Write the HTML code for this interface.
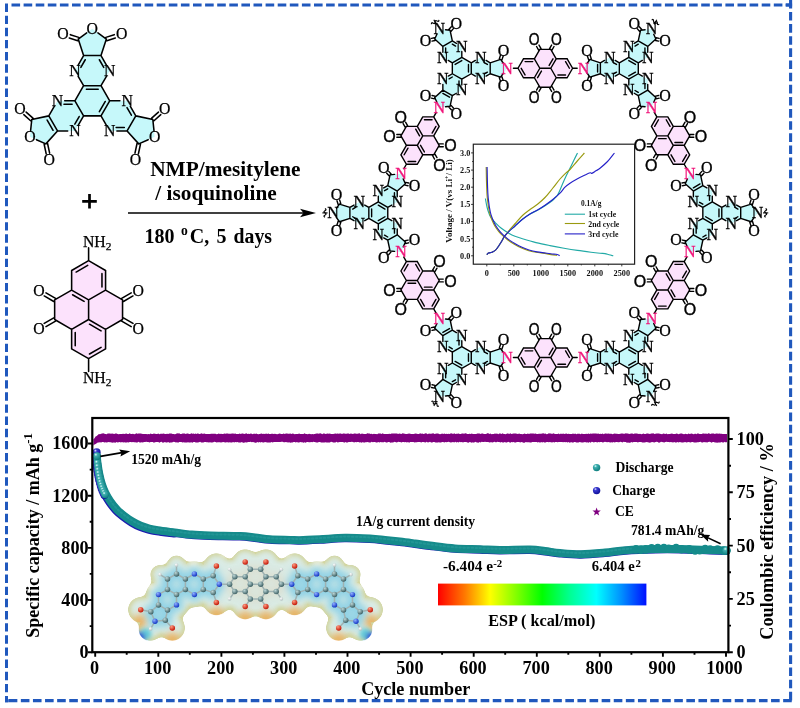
<!DOCTYPE html>
<html lang="en"><head><meta charset="utf-8"><title>COF synthesis and cycling performance</title>
<style>html,body{margin:0;padding:0;background:#fff}svg{display:block}</style></head>
<body>
<svg width="800" height="708" viewBox="0 0 800 708">
<defs><radialGradient id="gT" cx="0.35" cy="0.3" r="0.7"><stop offset="0" stop-color="#e8ffff"/><stop offset="0.28" stop-color="#3fb0b0"/><stop offset="1" stop-color="#0f7f7f"/></radialGradient>
<radialGradient id="gB" cx="0.35" cy="0.3" r="0.7"><stop offset="0" stop-color="#e8e8ff"/><stop offset="0.28" stop-color="#3a3ad0"/><stop offset="1" stop-color="#10109a"/></radialGradient>
<linearGradient id="rb" x1="0" x2="1" y1="0" y2="0"><stop offset="0" stop-color="#ff0000"/><stop offset="0.13" stop-color="#ff7a00"/><stop offset="0.25" stop-color="#ffff00"/><stop offset="0.38" stop-color="#7dff00"/><stop offset="0.5" stop-color="#00ff00"/><stop offset="0.63" stop-color="#00ff90"/><stop offset="0.76" stop-color="#00ffff"/><stop offset="0.88" stop-color="#0090ff"/><stop offset="1" stop-color="#0010ff"/></linearGradient>
<filter id="bl1" x="-10%" y="-20%" width="120%" height="140%"><feGaussianBlur stdDeviation="0.9"/></filter>
<filter id="goo2" x="-10%" y="-20%" width="120%" height="140%"><feGaussianBlur stdDeviation="3.2" result="b"/><feColorMatrix in="b" type="matrix" values="1 0 0 0 0  0 1 0 0 0  0 0 1 0 0  0 0 0 14 -6.4" result="t"/><feGaussianBlur in="t" stdDeviation="2.2"/></filter>
<filter id="goo" x="-10%" y="-20%" width="120%" height="140%"><feGaussianBlur stdDeviation="3.2" result="b"/><feColorMatrix in="b" type="matrix" values="1 0 0 0 0  0 1 0 0 0  0 0 1 0 0  0 0 0 14 -6.4" result="t"/><feGaussianBlur in="t" stdDeviation="0.7"/></filter>
<filter id="bl2" x="-20%" y="-40%" width="140%" height="180%"><feGaussianBlur stdDeviation="2.2"/></filter>
<filter id="bl3" x="-20%" y="-40%" width="140%" height="180%"><feGaussianBlur stdDeviation="3.6"/></filter>
<radialGradient id="aC" cx="0.35" cy="0.3" r="0.75"><stop offset="0" stop-color="#bcd6d6"/><stop offset="1" stop-color="#35595d"/></radialGradient>
<radialGradient id="aN" cx="0.35" cy="0.3" r="0.75"><stop offset="0" stop-color="#8fb0ff"/><stop offset="1" stop-color="#0a2cc0"/></radialGradient>
<radialGradient id="aO" cx="0.35" cy="0.3" r="0.75"><stop offset="0" stop-color="#ff9a80"/><stop offset="1" stop-color="#c01000"/></radialGradient>
<radialGradient id="aH" cx="0.35" cy="0.3" r="0.75"><stop offset="0" stop-color="#ffffff"/><stop offset="1" stop-color="#aebcbc"/></radialGradient>
<clipPath id="espclip"><circle cx="185.4" cy="589.4" r="12.9"/><circle cx="176.5" cy="594.6" r="12.9"/><circle cx="167.5" cy="589.4" r="12.9"/><circle cx="167.5" cy="579.0" r="12.9"/><circle cx="176.5" cy="573.9" r="12.9"/><circle cx="185.4" cy="579.0" r="12.9"/><circle cx="194.4" cy="573.9" r="12.9"/><circle cx="203.3" cy="579.0" r="12.9"/><circle cx="213.2" cy="575.8" r="12.9"/><circle cx="216.4" cy="566.0" r="12.9"/><circle cx="194.4" cy="594.6" r="12.9"/><circle cx="203.3" cy="589.4" r="12.9"/><circle cx="213.2" cy="592.6" r="12.9"/><circle cx="216.4" cy="602.4" r="12.9"/><circle cx="219.3" cy="584.2" r="12.9"/><circle cx="176.5" cy="604.9" r="12.9"/><circle cx="167.5" cy="610.1" r="12.9"/><circle cx="165.3" cy="620.2" r="12.9"/><circle cx="172.3" cy="627.9" r="12.9"/><circle cx="158.5" cy="594.6" r="12.9"/><circle cx="158.5" cy="604.9" r="12.9"/><circle cx="150.8" cy="611.8" r="12.9"/><circle cx="140.7" cy="609.7" r="12.9"/><circle cx="155.0" cy="621.3" r="12.9"/><circle cx="159.9" cy="574.6" r="10.0"/><circle cx="176.5" cy="565.1" r="10.0"/><circle cx="150.6" cy="628.9" r="12.0"/><circle cx="325.6" cy="579.0" r="12.9"/><circle cx="334.5" cy="573.9" r="12.9"/><circle cx="343.5" cy="579.0" r="12.9"/><circle cx="343.5" cy="589.4" r="12.9"/><circle cx="334.5" cy="594.6" r="12.9"/><circle cx="325.6" cy="589.4" r="12.9"/><circle cx="316.6" cy="594.6" r="12.9"/><circle cx="307.7" cy="589.4" r="12.9"/><circle cx="297.8" cy="592.6" r="12.9"/><circle cx="294.6" cy="602.4" r="12.9"/><circle cx="316.6" cy="573.9" r="12.9"/><circle cx="307.7" cy="579.0" r="12.9"/><circle cx="297.8" cy="575.8" r="12.9"/><circle cx="294.6" cy="566.0" r="12.9"/><circle cx="291.7" cy="584.2" r="12.9"/><circle cx="352.5" cy="594.6" r="12.9"/><circle cx="352.5" cy="604.9" r="12.9"/><circle cx="360.2" cy="611.8" r="12.9"/><circle cx="370.3" cy="609.7" r="12.9"/><circle cx="334.5" cy="604.9" r="12.9"/><circle cx="343.5" cy="610.1" r="12.9"/><circle cx="345.7" cy="620.2" r="12.9"/><circle cx="338.7" cy="627.9" r="12.9"/><circle cx="356.0" cy="621.3" r="12.9"/><circle cx="334.5" cy="565.1" r="10.0"/><circle cx="351.1" cy="574.6" r="10.0"/><circle cx="360.4" cy="628.9" r="12.0"/><circle cx="260.7" cy="584.2" r="12.9"/><circle cx="250.3" cy="584.2" r="12.9"/><circle cx="265.9" cy="576.8" r="12.9"/><circle cx="276.2" cy="576.8" r="12.9"/><circle cx="281.4" cy="584.2" r="12.9"/><circle cx="276.2" cy="591.6" r="12.9"/><circle cx="265.9" cy="591.6" r="12.9"/><circle cx="245.2" cy="576.8" r="12.9"/><circle cx="234.8" cy="576.8" r="12.9"/><circle cx="229.6" cy="584.2" r="12.9"/><circle cx="234.8" cy="591.6" r="12.9"/><circle cx="245.2" cy="591.6" r="12.9"/><circle cx="260.7" cy="569.3" r="12.9"/><circle cx="250.3" cy="569.3" r="12.9"/><circle cx="260.7" cy="599.1" r="12.9"/><circle cx="250.3" cy="599.1" r="12.9"/><circle cx="245.2" cy="561.9" r="12.9"/><circle cx="229.6" cy="569.5" r="10.0"/><circle cx="245.2" cy="606.5" r="12.9"/><circle cx="229.6" cy="598.9" r="10.0"/><circle cx="265.9" cy="561.9" r="12.9"/><circle cx="281.4" cy="569.5" r="10.0"/><circle cx="265.9" cy="606.5" r="12.9"/><circle cx="281.4" cy="598.9" r="10.0"/></clipPath></defs>
<rect width="800" height="708" fill="#fff"/>
<g stroke="#2058bd" fill="none">
<path d="M11.5 5H792" stroke-width="2.8" stroke-dasharray="8.6 3.5"/>
<path d="M6.5 3.5V702.2" stroke-width="3" stroke-dasharray="8.4 3.75"/>
<path d="M790.6 -0.2V702.2" stroke-width="3.1" stroke-dasharray="8.6 3.54"/>
<path d="M8.75 700.7H792" stroke-width="3.2" stroke-dasharray="8.6 3.5"/>
<path d="M5 700.7H8.75M785.6 5H792.1" stroke-width="3"/>
</g>
<g id="mono1"><polygon points="101.00,85.73 109.70,100.80 101.00,115.87 83.60,115.87 74.90,100.80 83.60,85.73" fill="#c6f8fa"/>
<polygon points="83.60,85.73 74.90,70.66 83.60,55.59 101.00,55.59 109.70,70.66 101.00,85.73" fill="#c6f8fa"/>
<polygon points="83.60,55.59 78.22,39.04 92.30,28.82 106.38,39.04 101.00,55.59" fill="#c6f8fa"/>
<polygon points="109.70,100.80 127.10,100.80 135.80,115.87 127.10,130.94 109.70,130.94 101.00,115.87" fill="#c6f8fa"/>
<polygon points="135.80,115.87 152.82,119.49 154.64,136.79 138.74,143.87 127.10,130.94" fill="#c6f8fa"/>
<polygon points="83.60,115.87 74.90,130.94 57.50,130.94 48.80,115.87 57.50,100.80 74.90,100.80" fill="#c6f8fa"/>
<polygon points="57.50,130.94 45.86,143.87 29.96,136.79 31.78,119.49 48.80,115.87" fill="#c6f8fa"/>
<path d="M83.60 85.73L101.00 85.73M86.38 89.23L98.22 89.23M83.60 85.73L78.15 76.30M101.00 85.73L106.45 76.30M78.15 65.02L83.60 55.59M80.86 67.34L85.24 59.75M106.45 65.02L101.00 55.59M103.74 67.34L99.36 59.75M83.60 55.59L101.00 55.59M83.60 55.59L78.22 39.04M101.00 55.59L106.38 39.04M78.22 39.04L86.69 32.90M106.38 39.04L97.91 32.90M78.76 37.38L70.33 34.64M77.68 40.71L69.24 37.97M106.92 40.71L115.36 37.97M105.84 37.38L114.27 34.64M109.70 100.80L101.00 115.87M105.28 101.46L99.36 111.71M109.70 100.80L119.90 100.80M101.00 115.87L106.45 125.30M130.35 106.44L135.80 115.87M127.00 107.62L131.38 115.21M116.90 130.94L127.10 130.94M116.18 127.44L124.32 127.44M135.80 115.87L127.10 130.94M135.80 115.87L152.82 119.49M127.10 130.94L138.74 143.87M152.82 119.49L154.02 130.86M138.74 143.87L148.17 139.67M153.99 120.79L160.80 114.66M151.65 118.19L158.46 112.06M137.03 143.51L134.97 153.19M140.45 144.23L138.40 153.92M83.60 115.87L74.90 100.80M83.60 115.87L78.15 125.30M79.18 116.53L74.80 124.11M74.90 100.80L64.70 100.80M72.12 104.30L63.98 104.30M67.70 130.94L57.50 130.94M54.25 106.44L48.80 115.87M57.50 130.94L48.80 115.87M53.08 130.28L47.16 120.03M57.50 130.94L45.86 143.87M48.80 115.87L31.78 119.49M45.86 143.87L36.43 139.67M31.78 119.49L30.58 130.86M44.15 144.23L46.20 153.92M47.57 143.51L49.63 153.19M32.95 118.19L26.14 112.06M30.61 120.79L23.80 114.66M101.00 85.73L109.70 100.80M101.00 115.87L83.60 115.87M74.90 100.80L83.60 85.73" fill="none" stroke="#000" stroke-width="1.55" stroke-linecap="round"/>
<g font-family="'Liberation Serif',serif" font-size="15.8" fill="#000" stroke="#000" stroke-width="0.25" text-anchor="middle">
<text x="74.90" y="75.88">N</text>
<text x="109.70" y="75.88">N</text>
<text x="92.30" y="34.03">O</text>
<text x="63.00" y="39.31">O</text>
<text x="121.60" y="39.31">O</text>
<text x="127.10" y="106.01">N</text>
<text x="109.70" y="136.15">N</text>
<text x="154.64" y="142.01">O</text>
<text x="164.72" y="113.99">O</text>
<text x="135.41" y="164.74">O</text>
<text x="74.90" y="136.15">N</text>
<text x="57.50" y="106.01">N</text>
<text x="29.96" y="142.01">O</text>
<text x="49.19" y="164.74">O</text>
<text x="19.88" y="113.99">O</text>
</g></g>
<g id="mono2"><polygon points="88.60,319.50 105.57,329.30 105.57,348.90 88.60,358.70 71.63,348.90 71.63,329.30" fill="#fce2fc"/>
<polygon points="88.60,299.90 105.57,290.10 105.57,270.50 88.60,260.70 71.63,270.50 71.63,290.10" fill="#fce2fc"/>
<polygon points="88.60,319.50 105.57,329.30 122.55,319.50 122.55,299.90 105.57,290.10 88.60,299.90" fill="#fce2fc"/>
<polygon points="88.60,319.50 71.63,329.30 54.65,319.50 54.65,299.90 71.63,290.10 88.60,299.90" fill="#fce2fc"/>
<path d="M88.60 319.50L88.60 299.90M88.60 319.50L105.57 329.30M89.52 324.19L101.06 330.85M105.57 329.30L105.57 348.90M105.57 348.90L88.60 358.70M101.06 347.35L89.52 354.01M88.60 358.70L71.63 348.90M71.63 348.90L71.63 329.30M75.23 345.76L75.23 332.44M71.63 329.30L88.60 319.50M88.60 299.90L71.63 290.10M84.08 301.45L72.54 294.79M71.63 290.10L71.63 270.50M71.63 270.50L88.60 260.70M76.14 272.05L87.68 265.39M88.60 260.70L105.57 270.50M105.57 270.50L105.57 290.10M101.97 273.64L101.97 286.96M105.57 290.10L88.60 299.90M105.57 329.30L122.55 319.50M122.55 319.50L122.55 299.90M122.55 299.90L105.57 290.10M71.63 329.30L54.65 319.50M54.65 319.50L54.65 299.90M54.65 299.90L71.63 290.10M121.65 321.06L131.19 326.57M123.45 317.94L132.99 323.45M123.45 301.46L132.99 295.95M121.65 298.34L131.19 292.83M53.75 317.94L44.21 323.45M55.55 321.06L46.01 326.57M55.55 298.34L46.01 292.83M53.75 301.46L44.21 295.95M88.60 358.70L88.60 371.51M88.60 260.70L88.60 247.89" fill="none" stroke="#000" stroke-width="1.55" stroke-linecap="round"/>
<g font-family="'Liberation Serif',serif" font-size="15.8" fill="#000" stroke="#000" stroke-width="0.25" text-anchor="middle">
<text x="138.16" y="333.73">O</text>
<text x="138.16" y="296.10">O</text>
<text x="39.04" y="333.73">O</text>
<text x="39.04" y="296.10">O</text>
<text x="82.91" y="382.53" text-anchor="start">NH<tspan font-size="11.4" dy="3.2">2</tspan></text>
<text x="82.91" y="247.29" text-anchor="start">NH<tspan font-size="11.4" dy="3.2">2</tspan></text>
</g></g>
<path d="M82.2 201.3H96.8M89.5 194V208.6" stroke="#000" stroke-width="2.7" fill="none"/>
<path d="M128 213H305" stroke="#000" stroke-width="1.6" fill="none"/>
<path d="M316 213L300 208.8L303.5 213L300 217.2Z" fill="#000"/>
<g font-family="'Liberation Serif',serif" font-weight="bold" font-size="21" fill="#000">
<text x="150.2" y="175.5" textLength="150.4" lengthAdjust="spacingAndGlyphs">NMP/mesitylene</text>
<text x="155.3" y="199.9" textLength="121.4" lengthAdjust="spacingAndGlyphs">/ isoquinoline</text>
<g font-size="20">
<text x="144.6" y="242.6">180</text>
<text x="181" y="235" font-size="13.6">o</text>
<text x="189.8" y="242.6">C,</text>
<text x="216.6" y="242.6">5</text>
<text x="233.6" y="242.6" textLength="38.4" lengthAdjust="spacingAndGlyphs">days</text>
</g></g>
<g id="cof"><polygon points="721.77,218.37 712.30,223.83 702.83,218.37 702.83,207.43 712.30,201.97 721.77,207.43" fill="#c6f8fa"/>
<polygon points="721.77,207.43 731.24,201.97 740.71,207.43 740.71,218.37 731.24,223.83 721.77,218.37" fill="#c6f8fa"/>
<polygon points="740.71,207.43 751.11,204.05 757.53,212.90 751.11,221.75 740.71,218.37" fill="#c6f8fa"/>
<polygon points="712.30,223.83 712.30,234.77 702.83,240.23 693.36,234.77 693.36,223.83 702.83,218.37" fill="#c6f8fa"/>
<polygon points="702.83,240.23 700.56,250.93 689.68,252.07 685.24,242.08 693.36,234.77" fill="#c6f8fa"/>
<polygon points="702.83,207.43 693.36,201.97 693.36,191.03 702.83,185.57 712.30,191.03 712.30,201.97" fill="#c6f8fa"/>
<polygon points="693.36,191.03 685.24,183.72 689.68,173.73 700.56,174.87 702.83,185.57" fill="#c6f8fa"/>
<polygon points="628.80,368.46 619.33,362.99 619.33,352.06 628.80,346.59 638.27,352.06 638.27,362.99" fill="#c6f8fa"/>
<polygon points="638.27,362.99 647.74,368.46 647.74,379.39 638.27,384.86 628.80,379.39 628.80,368.46" fill="#c6f8fa"/>
<polygon points="647.74,379.39 655.86,386.71 651.42,396.70 640.54,395.56 638.27,384.86" fill="#c6f8fa"/>
<polygon points="619.33,362.99 609.86,368.46 600.39,362.99 600.39,352.06 609.86,346.59 619.33,352.06" fill="#c6f8fa"/>
<polygon points="600.39,362.99 589.99,366.37 583.57,357.53 589.99,348.68 600.39,352.06" fill="#c6f8fa"/>
<polygon points="628.80,346.59 628.80,335.66 638.27,330.19 647.74,335.66 647.74,346.59 638.27,352.06" fill="#c6f8fa"/>
<polygon points="638.27,330.19 640.54,319.50 651.42,318.35 655.86,328.34 647.74,335.66" fill="#c6f8fa"/>
<polygon points="452.33,362.99 452.33,352.06 461.80,346.59 471.27,352.06 471.27,362.99 461.80,368.46" fill="#c6f8fa"/>
<polygon points="461.80,368.46 461.80,379.39 452.33,384.86 442.86,379.39 442.86,368.46 452.33,362.99" fill="#c6f8fa"/>
<polygon points="452.33,384.86 450.06,395.56 439.18,396.70 434.74,386.71 442.86,379.39" fill="#c6f8fa"/>
<polygon points="452.33,352.06 442.86,346.59 442.86,335.66 452.33,330.19 461.80,335.66 461.80,346.59" fill="#c6f8fa"/>
<polygon points="442.86,335.66 434.74,328.34 439.18,318.35 450.06,319.50 452.33,330.19" fill="#c6f8fa"/>
<polygon points="471.27,352.06 480.74,346.59 490.21,352.06 490.21,362.99 480.74,368.46 471.27,362.99" fill="#c6f8fa"/>
<polygon points="490.21,352.06 500.61,348.68 507.03,357.53 500.61,366.37 490.21,362.99" fill="#c6f8fa"/>
<polygon points="368.83,207.43 378.30,201.97 387.77,207.43 387.77,218.37 378.30,223.83 368.83,218.37" fill="#c6f8fa"/>
<polygon points="368.83,218.37 359.36,223.83 349.89,218.37 349.89,207.43 359.36,201.97 368.83,207.43" fill="#c6f8fa"/>
<polygon points="349.89,218.37 339.49,221.75 333.07,212.90 339.49,204.05 349.89,207.43" fill="#c6f8fa"/>
<polygon points="378.30,201.97 378.30,191.03 387.77,185.57 397.24,191.03 397.24,201.97 387.77,207.43" fill="#c6f8fa"/>
<polygon points="387.77,185.57 390.04,174.87 400.92,173.73 405.36,183.72 397.24,191.03" fill="#c6f8fa"/>
<polygon points="387.77,218.37 397.24,223.83 397.24,234.77 387.77,240.23 378.30,234.77 378.30,223.83" fill="#c6f8fa"/>
<polygon points="397.24,234.77 405.36,242.08 400.92,252.07 390.04,250.93 387.77,240.23" fill="#c6f8fa"/>
<polygon points="461.80,57.34 471.27,62.81 471.27,73.74 461.80,79.21 452.33,73.74 452.33,62.81" fill="#c6f8fa"/>
<polygon points="452.33,62.81 442.86,57.34 442.86,46.41 452.33,40.94 461.80,46.41 461.80,57.34" fill="#c6f8fa"/>
<polygon points="442.86,46.41 434.74,39.09 439.18,29.10 450.06,30.24 452.33,40.94" fill="#c6f8fa"/>
<polygon points="471.27,62.81 480.74,57.34 490.21,62.81 490.21,73.74 480.74,79.21 471.27,73.74" fill="#c6f8fa"/>
<polygon points="490.21,62.81 500.61,59.43 507.03,68.27 500.61,77.12 490.21,73.74" fill="#c6f8fa"/>
<polygon points="461.80,79.21 461.80,90.14 452.33,95.61 442.86,90.14 442.86,79.21 452.33,73.74" fill="#c6f8fa"/>
<polygon points="452.33,95.61 450.06,106.30 439.18,107.45 434.74,97.46 442.86,90.14" fill="#c6f8fa"/>
<polygon points="638.27,62.81 638.27,73.74 628.80,79.21 619.33,73.74 619.33,62.81 628.80,57.34" fill="#c6f8fa"/>
<polygon points="628.80,57.34 628.80,46.41 638.27,40.94 647.74,46.41 647.74,57.34 638.27,62.81" fill="#c6f8fa"/>
<polygon points="638.27,40.94 640.54,30.24 651.42,29.10 655.86,39.09 647.74,46.41" fill="#c6f8fa"/>
<polygon points="638.27,73.74 647.74,79.21 647.74,90.14 638.27,95.61 628.80,90.14 628.80,79.21" fill="#c6f8fa"/>
<polygon points="647.74,90.14 655.86,97.46 651.42,107.45 640.54,106.30 638.27,95.61" fill="#c6f8fa"/>
<polygon points="619.33,73.74 609.86,79.21 600.39,73.74 600.39,62.81 609.86,57.34 619.33,62.81" fill="#c6f8fa"/>
<polygon points="600.39,73.74 589.99,77.12 583.57,68.27 589.99,59.43 600.39,62.81" fill="#c6f8fa"/>
<polygon points="667.82,289.95 673.28,299.42 667.82,308.89 656.88,308.89 651.42,299.42 656.88,289.95" fill="#fce2fc"/>
<polygon points="673.28,280.48 684.22,280.48 689.68,271.01 684.22,261.54 673.28,261.54 667.82,271.01" fill="#fce2fc"/>
<polygon points="667.82,289.95 673.28,299.42 684.22,299.42 689.68,289.95 684.22,280.48 673.28,280.48" fill="#fce2fc"/>
<polygon points="667.82,289.95 656.88,289.95 651.42,280.48 656.88,271.01 667.82,271.01 673.28,280.48" fill="#fce2fc"/>
<polygon points="539.83,357.53 534.37,367.00 523.43,367.00 517.97,357.53 523.43,348.06 534.37,348.06" fill="#fce2fc"/>
<polygon points="550.77,357.53 556.23,367.00 567.17,367.00 572.63,357.53 567.17,348.06 556.23,348.06" fill="#fce2fc"/>
<polygon points="539.83,357.53 534.37,367.00 539.83,376.46 550.77,376.46 556.23,367.00 550.77,357.53" fill="#fce2fc"/>
<polygon points="539.83,357.53 534.37,348.06 539.83,338.59 550.77,338.59 556.23,348.06 550.77,357.53" fill="#fce2fc"/>
<polygon points="417.32,280.48 406.38,280.48 400.92,271.01 406.38,261.54 417.32,261.54 422.78,271.01" fill="#fce2fc"/>
<polygon points="422.78,289.95 417.32,299.42 422.78,308.89 433.72,308.89 439.18,299.42 433.72,289.95" fill="#fce2fc"/>
<polygon points="417.32,280.48 406.38,280.48 400.92,289.95 406.38,299.42 417.32,299.42 422.78,289.95" fill="#fce2fc"/>
<polygon points="417.32,280.48 422.78,271.01 433.72,271.01 439.18,280.48 433.72,289.95 422.78,289.95" fill="#fce2fc"/>
<polygon points="422.78,135.85 417.32,126.38 422.78,116.91 433.72,116.91 439.18,126.38 433.72,135.85" fill="#fce2fc"/>
<polygon points="417.32,145.32 406.38,145.32 400.92,154.79 406.38,164.26 417.32,164.26 422.78,154.79" fill="#fce2fc"/>
<polygon points="422.78,135.85 417.32,126.38 406.38,126.38 400.92,135.85 406.38,145.32 417.32,145.32" fill="#fce2fc"/>
<polygon points="422.78,135.85 433.72,135.85 439.18,145.32 433.72,154.79 422.78,154.79 417.32,145.32" fill="#fce2fc"/>
<polygon points="550.77,68.27 556.23,58.80 567.17,58.80 572.63,68.27 567.17,77.74 556.23,77.74" fill="#fce2fc"/>
<polygon points="539.83,68.27 534.37,58.80 523.43,58.80 517.97,68.27 523.43,77.74 534.37,77.74" fill="#fce2fc"/>
<polygon points="550.77,68.27 556.23,58.80 550.77,49.34 539.83,49.34 534.37,58.80 539.83,68.27" fill="#fce2fc"/>
<polygon points="550.77,68.27 556.23,77.74 550.77,87.21 539.83,87.21 534.37,77.74 539.83,68.27" fill="#fce2fc"/>
<polygon points="673.28,145.32 684.22,145.32 689.68,154.79 684.22,164.26 673.28,164.26 667.82,154.79" fill="#fce2fc"/>
<polygon points="667.82,135.85 673.28,126.38 667.82,116.91 656.88,116.91 651.42,126.38 656.88,135.85" fill="#fce2fc"/>
<polygon points="673.28,145.32 684.22,145.32 689.68,135.85 684.22,126.38 673.28,126.38 667.82,135.85" fill="#fce2fc"/>
<polygon points="673.28,145.32 667.82,154.79 656.88,154.79 651.42,145.32 656.88,135.85 667.82,135.85" fill="#fce2fc"/>
<path d="M721.77 207.43L721.77 218.37M718.97 209.07L718.97 216.73M721.77 207.43L725.85 205.08M721.77 218.37L725.85 220.72M736.62 205.08L740.71 207.43M734.68 207.19L737.89 209.04M736.62 220.72L740.71 218.37M734.68 218.61L737.89 216.76M740.71 207.43L740.71 218.37M740.71 207.43L751.11 204.05M740.71 218.37L751.11 221.75M751.11 204.05L754.08 208.15M751.11 221.75L754.08 217.65M752.44 204.49L753.63 200.81M749.77 203.62L750.97 199.94M749.77 222.18L750.97 225.86M752.44 221.31L753.63 224.99M712.30 223.83L702.83 218.37M712.28 220.59L705.65 216.76M712.30 223.83L712.30 229.62M702.83 218.37L698.75 220.72M706.91 237.88L702.83 240.23M706.05 235.14L702.85 236.99M693.36 228.99L693.36 234.77M696.16 228.47L696.16 233.13M702.83 240.23L693.36 234.77M702.83 240.23L700.56 250.93M693.36 234.77L685.24 242.08M700.56 250.93L696.03 251.41M685.24 242.08L687.38 246.91M699.52 251.87L701.81 254.41M701.60 249.99L703.89 252.54M685.53 240.71L682.55 240.08M684.95 243.45L681.97 242.82M702.83 207.43L712.30 201.97M702.83 207.43L698.75 205.08M702.81 204.19L699.61 202.34M712.30 201.97L712.30 196.18M709.50 200.33L709.50 195.67M693.36 196.81L693.36 191.03M706.91 187.92L702.83 185.57M693.36 191.03L702.83 185.57M693.38 187.79L700.01 183.96M693.36 191.03L685.24 183.72M702.83 185.57L700.56 174.87M685.24 183.72L687.38 178.89M700.56 174.87L696.03 174.39M684.95 182.35L681.97 182.98M685.53 185.09L682.55 185.72M701.60 175.81L703.89 173.26M699.52 173.93L701.81 171.39M721.77 218.37L712.30 223.83M702.83 218.37L702.83 207.43M712.30 201.97L721.77 207.43M638.27 362.99L628.80 368.46M635.45 361.39L628.82 365.21M638.27 362.99L642.35 365.35M628.80 368.46L628.80 374.24M647.74 373.61L647.74 379.39M644.94 373.10L644.94 377.75M634.19 382.50L638.27 384.86M635.05 379.77L638.25 381.62M647.74 379.39L638.27 384.86M647.74 379.39L655.86 386.71M638.27 384.86L640.54 395.56M655.86 386.71L653.72 391.53M640.54 395.56L645.07 396.03M656.15 388.08L659.13 387.45M655.57 385.34L658.55 384.71M639.50 394.62L637.21 397.17M641.58 396.49L639.29 399.04M619.33 362.99L619.33 352.06M619.33 362.99L615.25 365.35M616.51 361.39L613.31 363.24M619.33 352.06L615.25 349.70M616.51 353.66L613.31 351.82M604.48 365.35L600.39 362.99M604.48 349.70L600.39 352.06M600.39 362.99L600.39 352.06M597.59 361.35L597.59 353.70M600.39 362.99L589.99 366.37M600.39 352.06L589.99 348.68M589.99 366.37L587.02 362.28M589.99 348.68L587.02 352.77M588.66 365.94L587.47 369.62M591.33 366.80L590.13 370.49M591.33 348.25L590.13 344.57M588.66 349.11L587.47 345.43M628.80 346.59L638.27 352.06M628.82 349.84L635.45 353.66M628.80 346.59L628.80 340.81M638.27 352.06L642.35 349.70M634.19 332.55L638.27 330.19M635.05 335.29L638.25 333.44M647.74 341.44L647.74 335.66M644.94 341.96L644.94 337.30M638.27 330.19L647.74 335.66M638.27 330.19L640.54 319.50M647.74 335.66L655.86 328.34M640.54 319.50L645.07 319.02M655.86 328.34L653.72 323.52M641.58 318.56L639.29 316.01M639.50 320.43L637.21 317.89M655.57 329.71L658.55 330.35M656.15 326.97L659.13 327.61M628.80 368.46L619.33 362.99M619.33 352.06L628.80 346.59M638.27 352.06L638.27 362.99M461.80 368.46L452.33 362.99M461.78 365.21L455.15 361.39M461.80 368.46L461.80 374.24M452.33 362.99L448.25 365.35M456.41 382.50L452.33 384.86M455.55 379.77L452.35 381.62M442.86 373.61L442.86 379.39M445.66 373.10L445.66 377.75M452.33 384.86L442.86 379.39M452.33 384.86L450.06 395.56M442.86 379.39L434.74 386.71M450.06 395.56L445.53 396.03M434.74 386.71L436.88 391.53M449.02 396.49L451.31 399.04M451.10 394.62L453.39 397.17M435.03 385.34L432.05 384.71M434.45 388.08L431.47 387.45M452.33 352.06L461.80 346.59M452.33 352.06L448.25 349.70M452.31 348.81L449.11 346.97M461.80 346.59L461.80 340.81M459.00 344.95L459.00 340.30M442.86 341.44L442.86 335.66M456.41 332.55L452.33 330.19M442.86 335.66L452.33 330.19M442.88 332.41L449.51 328.59M442.86 335.66L434.74 328.34M452.33 330.19L450.06 319.50M434.74 328.34L436.88 323.52M450.06 319.50L445.53 319.02M434.45 326.97L431.47 327.61M435.03 329.71L432.05 330.35M451.10 320.43L453.39 317.89M449.02 318.56L451.31 316.01M471.27 352.06L471.27 362.99M468.47 353.70L468.47 361.35M471.27 352.06L475.35 349.70M471.27 362.99L475.35 365.35M486.12 349.70L490.21 352.06M484.18 351.82L487.39 353.66M486.12 365.35L490.21 362.99M484.18 363.24L487.39 361.39M490.21 352.06L490.21 362.99M490.21 352.06L500.61 348.68M490.21 362.99L500.61 366.37M500.61 348.68L503.58 352.77M500.61 366.37L503.58 362.28M501.94 349.11L503.13 345.43M499.27 348.25L500.47 344.57M499.27 366.80L500.47 370.49M501.94 365.94L503.13 369.62M452.33 362.99L452.33 352.06M461.80 346.59L471.27 352.06M471.27 362.99L461.80 368.46M368.83 218.37L368.83 207.43M371.63 216.73L371.63 209.07M368.83 218.37L364.75 220.72M368.83 207.43L364.75 205.08M353.98 220.72L349.89 218.37M355.92 218.61L352.71 216.76M353.98 205.08L349.89 207.43M355.92 207.19L352.71 209.04M349.89 218.37L349.89 207.43M349.89 218.37L339.49 221.75M349.89 207.43L339.49 204.05M339.49 221.75L336.52 217.65M339.49 204.05L336.52 208.15M338.16 221.31L336.97 224.99M340.83 222.18L339.63 225.86M340.83 203.62L339.63 199.94M338.16 204.49L336.97 200.81M378.30 201.97L387.77 207.43M378.32 205.21L384.95 209.04M378.30 201.97L378.30 196.18M387.77 207.43L391.85 205.08M383.69 187.92L387.77 185.57M384.55 190.66L387.75 188.81M397.24 196.81L397.24 191.03M394.44 197.33L394.44 192.67M387.77 185.57L397.24 191.03M387.77 185.57L390.04 174.87M397.24 191.03L405.36 183.72M390.04 174.87L394.57 174.39M405.36 183.72L403.22 178.89M391.08 173.93L388.79 171.39M389.00 175.81L386.71 173.26M405.07 185.09L408.05 185.72M405.65 182.35L408.63 182.98M387.77 218.37L378.30 223.83M384.95 216.76L378.32 220.59M387.77 218.37L391.85 220.72M378.30 223.83L378.30 229.62M397.24 228.99L397.24 234.77M394.44 228.47L394.44 233.13M383.69 237.88L387.77 240.23M384.55 235.14L387.75 236.99M397.24 234.77L387.77 240.23M397.24 234.77L405.36 242.08M387.77 240.23L390.04 250.93M405.36 242.08L403.22 246.91M390.04 250.93L394.57 251.41M405.65 243.45L408.63 242.82M405.07 240.71L408.05 240.08M389.00 249.99L386.71 252.54M391.08 251.87L388.79 254.41M368.83 207.43L378.30 201.97M387.77 207.43L387.77 218.37M378.30 223.83L368.83 218.37M452.33 62.81L461.80 57.34M455.15 64.41L461.78 60.59M452.33 62.81L448.25 60.45M461.80 57.34L461.80 51.56M442.86 52.19L442.86 46.41M445.66 52.70L445.66 48.05M456.41 43.30L452.33 40.94M455.55 46.03L452.35 44.18M442.86 46.41L452.33 40.94M442.86 46.41L434.74 39.09M452.33 40.94L450.06 30.24M434.74 39.09L436.88 34.27M450.06 30.24L445.53 29.77M434.45 37.72L431.47 38.35M435.03 40.46L432.05 41.09M451.10 31.18L453.39 28.63M449.02 29.31L451.31 26.76M471.27 62.81L471.27 73.74M468.47 64.45L468.47 72.10M471.27 62.81L475.35 60.45M471.27 73.74L475.35 76.10M486.12 60.45L490.21 62.81M484.18 62.56L487.39 64.41M486.12 76.10L490.21 73.74M484.18 73.98L487.39 72.14M490.21 62.81L490.21 73.74M490.21 62.81L500.61 59.43M490.21 73.74L500.61 77.12M500.61 59.43L503.58 63.52M500.61 77.12L503.58 73.03M501.94 59.86L503.13 56.18M499.27 59.00L500.47 55.31M499.27 77.55L500.47 81.23M501.94 76.69L503.13 80.37M461.80 79.21L452.33 73.74M461.80 79.21L461.80 84.99M459.00 80.85L459.00 85.50M452.33 73.74L448.25 76.10M452.31 76.99L449.11 78.83M456.41 93.25L452.33 95.61M442.86 84.36L442.86 90.14M452.33 95.61L442.86 90.14M449.51 97.21L442.88 93.39M452.33 95.61L450.06 106.30M442.86 90.14L434.74 97.46M450.06 106.30L445.53 106.78M434.74 97.46L436.88 102.28M449.02 107.24L451.31 109.79M451.10 105.37L453.39 107.91M435.03 96.09L432.05 95.45M434.45 98.83L431.47 98.19M461.80 57.34L471.27 62.81M471.27 73.74L461.80 79.21M452.33 73.74L452.33 62.81M628.80 57.34L638.27 62.81M628.82 60.59L635.45 64.41M628.80 57.34L628.80 51.56M638.27 62.81L642.35 60.45M634.19 43.30L638.27 40.94M635.05 46.03L638.25 44.18M647.74 52.19L647.74 46.41M644.94 52.70L644.94 48.05M638.27 40.94L647.74 46.41M638.27 40.94L640.54 30.24M647.74 46.41L655.86 39.09M640.54 30.24L645.07 29.77M655.86 39.09L653.72 34.27M641.58 29.31L639.29 26.76M639.50 31.18L637.21 28.63M655.57 40.46L658.55 41.09M656.15 37.72L659.13 38.35M638.27 73.74L628.80 79.21M635.45 72.14L628.82 75.96M638.27 73.74L642.35 76.10M628.80 79.21L628.80 84.99M647.74 84.36L647.74 90.14M644.94 83.84L644.94 88.50M634.19 93.25L638.27 95.61M635.05 90.51L638.25 92.36M647.74 90.14L638.27 95.61M647.74 90.14L655.86 97.46M638.27 95.61L640.54 106.30M655.86 97.46L653.72 102.28M640.54 106.30L645.07 106.78M656.15 98.83L659.13 98.19M655.57 96.09L658.55 95.45M639.50 105.37L637.21 107.91M641.58 107.24L639.29 109.79M619.33 73.74L619.33 62.81M619.33 73.74L615.25 76.10M616.51 72.14L613.31 73.98M619.33 62.81L615.25 60.45M616.51 64.41L613.31 62.56M604.48 76.10L600.39 73.74M604.48 60.45L600.39 62.81M600.39 73.74L600.39 62.81M597.59 72.10L597.59 64.45M600.39 73.74L589.99 77.12M600.39 62.81L589.99 59.43M589.99 77.12L587.02 73.03M589.99 59.43L587.02 63.52M588.66 76.69L587.47 80.37M591.33 77.55L590.13 81.23M591.33 59.00L590.13 55.31M588.66 59.86L587.47 56.18M638.27 62.81L638.27 73.74M628.80 79.21L619.33 73.74M619.33 62.81L628.80 57.34M667.82 289.95L673.28 280.48M667.82 289.95L673.28 299.42M671.06 289.97L674.89 296.60M673.28 299.42L667.82 308.89M667.82 308.89L656.88 308.89M666.18 306.09L658.52 306.09M656.88 308.89L651.42 299.42M651.42 299.42L656.88 289.95M654.66 299.40L658.49 292.77M656.88 289.95L667.82 289.95M673.28 280.48L667.82 271.01M670.04 280.46L666.21 273.83M667.82 271.01L673.28 261.54M673.28 261.54L684.22 261.54M674.92 264.34L682.58 264.34M684.22 261.54L689.68 271.01M689.68 271.01L684.22 280.48M686.44 271.03L682.61 277.66M684.22 280.48L673.28 280.48M673.28 299.42L684.22 299.42M684.22 299.42L689.68 289.95M689.68 289.95L684.22 280.48M656.88 289.95L651.42 280.48M651.42 280.48L656.88 271.01M656.88 271.01L667.82 271.01M683.00 300.12L685.05 303.66M685.43 298.72L687.47 302.26M689.68 291.35L693.77 291.35M689.68 288.55L693.77 288.55M651.42 279.08L647.33 279.08M651.42 281.88L647.33 281.88M658.10 270.31L656.05 266.77M655.67 271.71L653.63 268.17M656.88 308.89L654.30 313.36M684.22 261.54L686.80 257.07M539.83 357.53L550.77 357.53M539.83 357.53L534.37 367.00M541.44 360.35L537.61 366.97M534.37 367.00L523.43 367.00M523.43 367.00L517.97 357.53M525.04 364.17L521.21 357.55M517.97 357.53L523.43 348.06M523.43 348.06L534.37 348.06M525.07 350.86L532.73 350.86M534.37 348.06L539.83 357.53M550.77 357.53L556.23 348.06M549.16 354.71L552.99 348.08M556.23 348.06L567.17 348.06M567.17 348.06L572.63 357.53M565.56 350.88L569.39 357.51M572.63 357.53L567.17 367.00M567.17 367.00L556.23 367.00M565.53 364.20L557.87 364.20M556.23 367.00L550.77 357.53M534.37 367.00L539.83 376.46M539.83 376.46L550.77 376.46M550.77 376.46L556.23 367.00M534.37 348.06L539.83 338.59M539.83 338.59L550.77 338.59M550.77 338.59L556.23 348.06M538.62 375.76L536.58 379.31M541.05 377.16L539.00 380.71M549.55 377.16L551.60 380.71M551.98 375.76L554.02 379.31M541.05 337.89L539.00 334.35M538.62 339.29L536.58 335.75M551.98 339.29L554.02 335.75M549.55 337.89L551.60 334.35M517.97 357.53L513.42 357.53M572.63 357.53L577.18 357.53M417.32 280.48L422.78 289.95M417.32 280.48L406.38 280.48M415.68 283.28L408.02 283.28M406.38 280.48L400.92 271.01M400.92 271.01L406.38 261.54M404.16 270.99L407.99 264.36M406.38 261.54L417.32 261.54M417.32 261.54L422.78 271.01M415.71 264.36L419.54 270.99M422.78 271.01L417.32 280.48M422.78 289.95L433.72 289.95M424.42 287.15L432.08 287.15M433.72 289.95L439.18 299.42M439.18 299.42L433.72 308.89M435.94 299.44L432.11 306.06M433.72 308.89L422.78 308.89M422.78 308.89L417.32 299.42M424.39 306.06L420.56 299.44M417.32 299.42L422.78 289.95M406.38 280.48L400.92 289.95M400.92 289.95L406.38 299.42M406.38 299.42L417.32 299.42M422.78 271.01L433.72 271.01M433.72 271.01L439.18 280.48M439.18 280.48L433.72 289.95M400.92 288.55L396.83 288.55M400.92 291.35L396.83 291.35M405.17 298.72L403.13 302.26M407.60 300.12L405.55 303.66M434.93 271.71L436.97 268.17M432.50 270.31L434.55 266.77M439.18 281.88L443.27 281.88M439.18 279.08L443.27 279.08M406.38 261.54L403.80 257.07M433.72 308.89L436.30 313.36M422.78 135.85L417.32 145.32M422.78 135.85L417.32 126.38M419.54 135.83L415.71 129.20M417.32 126.38L422.78 116.91M422.78 116.91L433.72 116.91M424.42 119.71L432.08 119.71M433.72 116.91L439.18 126.38M439.18 126.38L433.72 135.85M435.94 126.40L432.11 133.03M433.72 135.85L422.78 135.85M417.32 145.32L422.78 154.79M420.56 145.34L424.39 151.97M422.78 154.79L417.32 164.26M417.32 164.26L406.38 164.26M415.68 161.46L408.02 161.46M406.38 164.26L400.92 154.79M400.92 154.79L406.38 145.32M404.16 154.77L407.99 148.14M406.38 145.32L417.32 145.32M417.32 126.38L406.38 126.38M406.38 126.38L400.92 135.85M400.92 135.85L406.38 145.32M433.72 135.85L439.18 145.32M439.18 145.32L433.72 154.79M433.72 154.79L422.78 154.79M407.60 125.68L405.55 122.14M405.17 127.08L403.13 123.54M400.92 134.45L396.83 134.45M400.92 137.25L396.83 137.25M439.18 146.72L443.27 146.72M439.18 143.92L443.27 143.92M432.50 155.49L434.55 159.03M434.93 154.09L436.97 157.63M433.72 116.91L436.30 112.44M406.38 164.26L403.80 168.73M550.77 68.27L539.83 68.27M550.77 68.27L556.23 58.80M549.16 65.45L552.99 58.83M556.23 58.80L567.17 58.80M567.17 58.80L572.63 68.27M565.56 61.63L569.39 68.25M572.63 68.27L567.17 77.74M567.17 77.74L556.23 77.74M565.53 74.94L557.87 74.94M556.23 77.74L550.77 68.27M539.83 68.27L534.37 77.74M541.44 71.09L537.61 77.72M534.37 77.74L523.43 77.74M523.43 77.74L517.97 68.27M525.04 74.92L521.21 68.29M517.97 68.27L523.43 58.80M523.43 58.80L534.37 58.80M525.07 61.60L532.73 61.60M534.37 58.80L539.83 68.27M556.23 58.80L550.77 49.34M550.77 49.34L539.83 49.34M539.83 49.34L534.37 58.80M556.23 77.74L550.77 87.21M550.77 87.21L539.83 87.21M539.83 87.21L534.37 77.74M551.98 50.04L554.02 46.49M549.55 48.64L551.60 45.09M541.05 48.64L539.00 45.09M538.62 50.04L536.58 46.49M549.55 87.91L551.60 91.45M551.98 86.51L554.02 90.05M538.62 86.51L536.58 90.05M541.05 87.91L539.00 91.45M572.63 68.27L577.18 68.27M517.97 68.27L513.42 68.27M673.28 145.32L667.82 135.85M673.28 145.32L684.22 145.32M674.92 142.52L682.58 142.52M684.22 145.32L689.68 154.79M689.68 154.79L684.22 164.26M686.44 154.81L682.61 161.44M684.22 164.26L673.28 164.26M673.28 164.26L667.82 154.79M674.89 161.44L671.06 154.81M667.82 154.79L673.28 145.32M667.82 135.85L656.88 135.85M666.18 138.65L658.52 138.65M656.88 135.85L651.42 126.38M651.42 126.38L656.88 116.91M654.66 126.36L658.49 119.74M656.88 116.91L667.82 116.91M667.82 116.91L673.28 126.38M666.21 119.74L670.04 126.36M673.28 126.38L667.82 135.85M684.22 145.32L689.68 135.85M689.68 135.85L684.22 126.38M684.22 126.38L673.28 126.38M667.82 154.79L656.88 154.79M656.88 154.79L651.42 145.32M651.42 145.32L656.88 135.85M689.68 137.25L693.77 137.25M689.68 134.45L693.77 134.45M685.43 127.08L687.47 123.54M683.00 125.68L685.05 122.14M655.67 154.09L653.63 157.63M658.10 155.49L656.05 159.03M651.42 143.92L647.33 143.92M651.42 146.72L647.33 146.72M684.22 164.26L686.80 168.73M656.88 116.91L654.30 112.44" fill="none" stroke="#000" stroke-width="1.40" stroke-linecap="round"/>
<path d="M763.00 212.90L768.25 212.90" stroke="#000" stroke-width="1.1" fill="none"/>
<path d="M765.62 208.53L766.57 209.26L766.57 209.98L765.62 210.71L764.68 211.44L764.68 212.17L765.62 212.90L766.57 213.63L766.57 214.36L765.62 215.09L764.68 215.82L764.68 216.54L765.62 217.27" stroke="#000" stroke-width="1.1" fill="none"/>
<path d="M654.15 401.43L656.77 405.98" stroke="#000" stroke-width="1.1" fill="none"/>
<path d="M659.25 401.52L659.09 402.70L658.46 403.07L657.36 402.61L656.25 402.16L655.62 402.52L655.46 403.71L655.30 404.89L654.67 405.25L653.57 404.80L652.46 404.34L651.83 404.71L651.67 405.89" stroke="#000" stroke-width="1.1" fill="none"/>
<path d="M436.45 401.43L433.83 405.98" stroke="#000" stroke-width="1.1" fill="none"/>
<path d="M438.93 405.89L437.82 406.35L437.19 405.98L437.03 404.80L436.87 403.61L436.24 403.25L435.14 403.71L434.03 404.16L433.40 403.80L433.24 402.61L433.09 401.43L432.46 401.06L431.35 401.52" stroke="#000" stroke-width="1.1" fill="none"/>
<path d="M327.60 212.90L322.35 212.90" stroke="#000" stroke-width="1.1" fill="none"/>
<path d="M324.98 217.27L324.03 216.54L324.03 215.82L324.98 215.09L325.92 214.36L325.92 213.63L324.98 212.90L324.03 212.17L324.03 211.44L324.98 210.71L325.92 209.98L325.92 209.26L324.98 208.53" stroke="#000" stroke-width="1.1" fill="none"/>
<path d="M436.45 24.37L433.83 19.82" stroke="#000" stroke-width="1.1" fill="none"/>
<path d="M431.35 24.28L431.51 23.10L432.14 22.73L433.24 23.19L434.35 23.64L434.98 23.28L435.14 22.09L435.30 20.91L435.93 20.55L437.03 21.00L438.14 21.46L438.77 21.09L438.93 19.91" stroke="#000" stroke-width="1.1" fill="none"/>
<path d="M654.15 24.37L656.77 19.82" stroke="#000" stroke-width="1.1" fill="none"/>
<path d="M651.67 19.91L652.78 19.45L653.41 19.82L653.57 21.00L653.73 22.19L654.36 22.55L655.46 22.09L656.57 21.64L657.20 22.00L657.36 23.19L657.51 24.37L658.14 24.74L659.25 24.28" stroke="#000" stroke-width="1.1" fill="none"/>
<g font-family="'Liberation Serif',serif" font-size="16.0" fill="#000" stroke="#000" stroke-width="0.30" text-anchor="middle">
<text x="731.24" y="207.25">N</text>
<text x="731.24" y="229.11">N</text>
<text x="757.53" y="218.18">N</text>
<text x="754.01" y="200.39">O</text>
<text x="754.01" y="235.97">O</text>
<text x="712.30" y="240.05">N</text>
<text x="693.36" y="229.11">N</text>
<text x="706.85" y="263.20">O</text>
<text x="676.04" y="245.41">O</text>
<text x="693.36" y="207.25">N</text>
<text x="712.30" y="196.31">N</text>
<text x="676.04" y="190.95">O</text>
<text x="706.85" y="173.16">O</text>
<text x="647.74" y="373.74">N</text>
<text x="628.80" y="384.67">N</text>
<text x="651.42" y="401.98">N</text>
<text x="665.06" y="390.03">O</text>
<text x="634.25" y="407.82">O</text>
<text x="609.86" y="373.74">N</text>
<text x="609.86" y="351.87">N</text>
<text x="587.09" y="380.59">O</text>
<text x="587.09" y="345.02">O</text>
<text x="628.80" y="340.94">N</text>
<text x="647.74" y="351.87">N</text>
<text x="634.25" y="317.79">O</text>
<text x="665.06" y="335.58">O</text>
<text x="461.80" y="384.67">N</text>
<text x="442.86" y="373.74">N</text>
<text x="439.18" y="401.98">N</text>
<text x="456.35" y="407.82">O</text>
<text x="425.54" y="390.03">O</text>
<text x="442.86" y="351.87">N</text>
<text x="461.80" y="340.94">N</text>
<text x="425.54" y="335.58">O</text>
<text x="456.35" y="317.79">O</text>
<text x="480.74" y="351.87">N</text>
<text x="480.74" y="373.74">N</text>
<text x="503.51" y="345.02">O</text>
<text x="503.51" y="380.59">O</text>
<text x="359.36" y="229.11">N</text>
<text x="359.36" y="207.25">N</text>
<text x="333.07" y="218.18">N</text>
<text x="336.59" y="235.97">O</text>
<text x="336.59" y="200.39">O</text>
<text x="378.30" y="196.31">N</text>
<text x="397.24" y="207.25">N</text>
<text x="383.75" y="173.16">O</text>
<text x="414.56" y="190.95">O</text>
<text x="397.24" y="229.11">N</text>
<text x="378.30" y="240.05">N</text>
<text x="414.56" y="245.41">O</text>
<text x="383.75" y="263.20">O</text>
<text x="442.86" y="62.62">N</text>
<text x="461.80" y="51.69">N</text>
<text x="439.18" y="34.38">N</text>
<text x="425.54" y="46.33">O</text>
<text x="456.35" y="28.54">O</text>
<text x="480.74" y="62.62">N</text>
<text x="480.74" y="84.49">N</text>
<text x="503.51" y="55.77">O</text>
<text x="503.51" y="91.34">O</text>
<text x="461.80" y="95.42">N</text>
<text x="442.86" y="84.49">N</text>
<text x="456.35" y="118.57">O</text>
<text x="425.54" y="100.78">O</text>
<text x="628.80" y="51.69">N</text>
<text x="647.74" y="62.62">N</text>
<text x="651.42" y="34.38">N</text>
<text x="634.25" y="28.54">O</text>
<text x="665.06" y="46.33">O</text>
<text x="647.74" y="84.49">N</text>
<text x="628.80" y="95.42">N</text>
<text x="665.06" y="100.78">O</text>
<text x="634.25" y="118.57">O</text>
<text x="609.86" y="84.49">N</text>
<text x="609.86" y="62.62">N</text>
<text x="587.09" y="91.34">O</text>
<text x="587.09" y="55.77">O</text>
</g>
<g font-family="'Liberation Serif',serif" font-size="16.0" fill="#f0157a" stroke="#f0157a" stroke-width="0.30" text-anchor="middle">
<text x="689.68" y="257.35">N</text>
<text x="689.68" y="179.01">N</text>
<text x="583.57" y="362.81">N</text>
<text x="651.42" y="323.63">N</text>
<text x="439.18" y="323.63">N</text>
<text x="507.03" y="362.81">N</text>
<text x="400.92" y="179.01">N</text>
<text x="400.92" y="257.35">N</text>
<text x="507.03" y="73.55">N</text>
<text x="439.18" y="112.73">N</text>
<text x="651.42" y="112.73">N</text>
<text x="583.57" y="73.55">N</text>
</g>
<g font-family="'Liberation Sans',sans-serif" font-size="16.5" fill="#000" stroke="#000" stroke-width="0.40" text-anchor="middle">
<text transform="translate(689.90 309.26) scale(0.97 1.02)" y="5.97">O</text>
<text transform="translate(701.05 289.95) scale(0.97 1.02)" y="5.97">O</text>
<text transform="translate(640.05 280.48) scale(0.97 1.02)" y="5.97">O</text>
<text transform="translate(651.20 261.16) scale(0.97 1.02)" y="5.97">O</text>
<text transform="translate(534.15 392.28) scale(0.84 1)">O</text>
<text transform="translate(556.45 392.28) scale(0.84 1)">O</text>
<text transform="translate(534.15 334.71) scale(0.84 1)">O</text>
<text transform="translate(556.45 334.71) scale(0.84 1)">O</text>
<text transform="translate(389.55 289.95) scale(0.97 1.02)" y="5.97">O</text>
<text transform="translate(400.70 309.26) scale(0.97 1.02)" y="5.97">O</text>
<text transform="translate(439.40 261.16) scale(0.97 1.02)" y="5.97">O</text>
<text transform="translate(450.55 280.48) scale(0.97 1.02)" y="5.97">O</text>
<text transform="translate(400.70 116.54) scale(0.97 1.02)" y="5.97">O</text>
<text transform="translate(389.55 135.85) scale(0.97 1.02)" y="5.97">O</text>
<text transform="translate(450.55 145.32) scale(0.97 1.02)" y="5.97">O</text>
<text transform="translate(439.40 164.64) scale(0.97 1.02)" y="5.97">O</text>
<text transform="translate(556.45 45.45) scale(0.84 1)">O</text>
<text transform="translate(534.15 45.45) scale(0.84 1)">O</text>
<text transform="translate(556.45 103.02) scale(0.84 1)">O</text>
<text transform="translate(534.15 103.02) scale(0.84 1)">O</text>
<text transform="translate(701.05 135.85) scale(0.97 1.02)" y="5.97">O</text>
<text transform="translate(689.90 116.54) scale(0.97 1.02)" y="5.97">O</text>
<text transform="translate(651.20 164.64) scale(0.97 1.02)" y="5.97">O</text>
<text transform="translate(640.05 145.32) scale(0.97 1.02)" y="5.97">O</text>
</g></g>
<g id="inset"><rect x="473.3" y="144.2" width="161.3" height="120.0" fill="#fff" stroke="#222" stroke-width="1.2"/>
<path d="M473.3 255.8h-2.2M473.3 238.7h-2.2M473.3 221.5h-2.2M473.3 204.4h-2.2M473.3 187.2h-2.2M473.3 170.1h-2.2M473.3 152.9h-2.2M473.3 247.2h-1.2M473.3 230.1h-1.2M473.3 212.9h-1.2M473.3 195.8h-1.2M473.3 178.6h-1.2M473.3 161.5h-1.2M486.8 264.2v2.2M513.8 264.2v2.2M540.8 264.2v2.2M567.8 264.2v2.2M594.8 264.2v2.2M621.8 264.2v2.2M500.3 264.2v1.2M527.3 264.2v1.2M554.3 264.2v1.2M581.3 264.2v1.2M608.3 264.2v1.2" stroke="#222" stroke-width="0.9" fill="none"/>
<g font-family="'Liberation Serif',serif" font-weight="bold" font-size="8.2" fill="#111">
<text x="470.3" y="258.6" text-anchor="end">0.0</text>
<text x="470.3" y="241.5" text-anchor="end">0.5</text>
<text x="470.3" y="224.3" text-anchor="end">1.0</text>
<text x="470.3" y="207.2" text-anchor="end">1.5</text>
<text x="470.3" y="190.0" text-anchor="end">2.0</text>
<text x="470.3" y="172.9" text-anchor="end">2.5</text>
<text x="470.3" y="155.7" text-anchor="end">3.0</text>
<text x="486.8" y="275.6" text-anchor="middle">0</text>
<text x="513.8" y="275.6" text-anchor="middle">500</text>
<text x="540.8" y="275.6" text-anchor="middle">1000</text>
<text x="567.8" y="275.6" text-anchor="middle">1500</text>
<text x="594.8" y="275.6" text-anchor="middle">2000</text>
<text x="621.8" y="275.6" text-anchor="middle">2500</text>
<text transform="translate(452.4 201) rotate(-90)" text-anchor="middle" font-size="9">Voltage / V(vs Li<tspan font-size="6" dy="-3">+</tspan><tspan dy="3">/ Li)</tspan></text>
<text x="591.2" y="206" text-anchor="middle" font-size="7.4">0.1A/g</text>
<text x="588.3" y="217.2" font-size="7.8">1st cycle</text>
<text x="588.3" y="226.6" font-size="7.8">2nd cycle</text>
<text x="588.3" y="236.6" font-size="7.8">3rd cycle</text>
</g>
<path d="M564.8 214.2H585" stroke="#22aaa6" stroke-width="1.1"/>
<path d="M564.8 223.5H585" stroke="#9a9a10" stroke-width="1.1"/>
<path d="M564.8 233.9H585" stroke="#2420c8" stroke-width="1.1"/>
<path d="M485.40 198.50C485.67 199.92 486.32 204.28 487.00 207.00C487.68 209.72 488.67 212.80 489.50 214.80C490.33 216.80 491.08 217.75 492.00 219.00C492.92 220.25 493.50 220.80 495.00 222.30C496.50 223.80 498.70 226.18 501.00 228.00C503.30 229.82 506.47 231.82 508.80 233.20C511.13 234.58 512.72 235.37 515.00 236.30C517.28 237.23 519.00 237.75 522.50 238.80C526.00 239.85 531.42 241.47 536.00 242.60C540.58 243.73 545.33 244.67 550.00 245.60C554.67 246.53 559.42 247.40 564.00 248.20C568.58 249.00 573.00 249.73 577.50 250.40C582.00 251.07 587.25 251.73 591.00 252.20C594.75 252.67 597.67 252.97 600.00 253.20C602.33 253.43 603.50 253.33 605.00 253.60C606.50 253.87 607.62 254.43 609.00 254.80C610.38 255.17 612.58 255.63 613.30 255.80" stroke="#22aaa6" stroke-width="1.15" fill="none" stroke-linejoin="round"/>
<path d="M486.80 254.60C487.08 254.33 487.63 253.40 488.50 253.00C489.37 252.60 490.83 252.67 492.00 252.20C493.17 251.73 494.33 251.32 495.50 250.20C496.67 249.08 497.92 247.07 499.00 245.50C500.08 243.93 501.08 242.35 502.00 240.80C502.92 239.25 503.33 237.78 504.50 236.20C505.67 234.62 507.25 233.00 509.00 231.30C510.75 229.60 512.75 228.00 515.00 226.00C517.25 224.00 520.00 221.30 522.50 219.30C525.00 217.30 527.50 215.51 530.00 214.00C532.50 212.49 535.00 211.62 537.50 210.25C540.00 208.88 542.50 207.38 545.00 205.75C547.50 204.12 550.83 201.82 552.50 200.50C554.17 199.18 554.08 198.83 555.00 197.80C555.92 196.77 556.75 196.60 558.00 194.30C559.25 192.00 561.17 187.00 562.50 184.00C563.83 181.00 564.75 178.93 566.00 176.30C567.25 173.68 568.67 170.97 570.00 168.25C571.33 165.53 572.75 162.54 574.00 160.00C575.25 157.46 576.92 154.17 577.50 153.00" stroke="#22aaa6" stroke-width="1.15" fill="none" stroke-linejoin="round"/>
<path d="M486.20 167.00C486.27 170.00 486.42 179.83 486.60 185.00C486.78 190.17 486.82 193.42 487.30 198.00C487.78 202.58 488.72 208.83 489.50 212.50C490.28 216.17 491.08 217.70 492.00 220.00C492.92 222.30 493.83 224.33 495.00 226.30C496.17 228.27 497.62 230.15 499.00 231.80C500.38 233.45 501.72 234.75 503.30 236.20C504.88 237.65 506.67 239.17 508.50 240.50C510.33 241.83 512.22 242.98 514.30 244.20C516.38 245.42 518.72 246.75 521.00 247.80C523.28 248.85 525.50 249.75 528.00 250.50C530.50 251.25 533.25 251.82 536.00 252.30C538.75 252.78 542.00 253.02 544.50 253.40C547.00 253.78 548.92 254.27 551.00 254.60C553.08 254.93 556.00 255.27 557.00 255.40" stroke="#9a9a10" stroke-width="1.15" fill="none" stroke-linejoin="round"/>
<path d="M486.80 254.60C487.08 254.33 487.63 253.40 488.50 253.00C489.37 252.60 490.83 252.67 492.00 252.20C493.17 251.73 494.33 251.32 495.50 250.20C496.67 249.08 497.92 247.07 499.00 245.50C500.08 243.93 501.17 242.22 502.00 240.80C502.83 239.38 503.33 238.03 504.00 237.00C504.67 235.97 505.00 235.88 506.00 234.60C507.00 233.32 508.50 231.11 510.00 229.30C511.50 227.49 512.92 226.05 515.00 223.75C517.08 221.45 520.00 217.88 522.50 215.50C525.00 213.12 527.50 211.38 530.00 209.50C532.50 207.62 535.00 206.25 537.50 204.25C540.00 202.25 542.50 200.12 545.00 197.50C547.50 194.88 550.00 191.58 552.50 188.50C555.00 185.42 557.75 181.62 560.00 179.00C562.25 176.38 564.33 174.38 566.00 172.80C567.67 171.22 568.08 171.51 570.00 169.50C571.92 167.49 575.10 163.50 577.50 160.75C579.90 158.00 583.25 154.29 584.40 153.00" stroke="#9a9a10" stroke-width="1.15" fill="none" stroke-linejoin="round"/>
<path d="M487.10 167.00C487.17 170.00 487.32 179.83 487.50 185.00C487.68 190.17 487.73 193.50 488.20 198.00C488.67 202.50 489.53 208.42 490.30 212.00C491.07 215.58 491.88 217.20 492.80 219.50C493.72 221.80 494.63 223.83 495.80 225.80C496.97 227.77 498.40 229.63 499.80 231.30C501.20 232.97 502.60 234.33 504.20 235.80C505.80 237.27 507.57 238.77 509.40 240.10C511.23 241.43 513.10 242.60 515.20 243.80C517.30 245.00 519.70 246.27 522.00 247.30C524.30 248.33 526.50 249.23 529.00 250.00C531.50 250.77 534.25 251.40 537.00 251.90C539.75 252.40 543.00 252.65 545.50 253.00C548.00 253.35 550.25 253.78 552.00 254.00C553.75 254.22 554.72 254.03 556.00 254.30C557.28 254.57 559.08 255.38 559.70 255.60" stroke="#2420c8" stroke-width="1.15" fill="none" stroke-linejoin="round"/>
<path d="M486.80 254.60C487.08 254.33 487.63 253.40 488.50 253.00C489.37 252.60 490.83 252.67 492.00 252.20C493.17 251.73 494.33 251.32 495.50 250.20C496.67 249.08 497.92 247.07 499.00 245.50C500.08 243.93 501.08 242.35 502.00 240.80C502.92 239.25 503.33 237.78 504.50 236.20C505.67 234.62 507.25 233.00 509.00 231.30C510.75 229.60 512.75 228.00 515.00 226.00C517.25 224.00 520.00 221.30 522.50 219.30C525.00 217.30 527.50 215.55 530.00 214.00C532.50 212.45 535.00 211.47 537.50 210.00C540.00 208.53 542.50 206.90 545.00 205.20C547.50 203.50 550.00 201.80 552.50 199.80C555.00 197.80 557.92 195.30 560.00 193.20C562.08 191.10 563.33 188.86 565.00 187.20C566.67 185.54 567.92 184.66 570.00 183.25C572.08 181.84 575.00 180.12 577.50 178.75C580.00 177.38 582.88 176.00 585.00 175.00C587.12 174.00 589.12 173.02 590.25 172.75C591.38 172.48 590.79 173.72 591.75 173.40C592.71 173.08 594.62 171.66 596.00 170.80C597.38 169.94 598.08 169.80 600.00 168.25C601.92 166.70 605.08 164.04 607.50 161.50C609.92 158.96 613.33 154.42 614.50 153.00" stroke="#2420c8" stroke-width="1.15" fill="none" stroke-linejoin="round"/></g>
<g id="chart"><path d="M96.80 456.30C96.93 457.57 97.18 460.95 97.60 463.90C98.02 466.85 98.58 470.62 99.30 474.00C100.02 477.38 100.90 481.08 101.90 484.20C102.90 487.32 103.90 489.87 105.30 492.70C106.70 495.53 108.33 498.37 110.30 501.20C112.27 504.03 114.83 507.30 117.10 509.70C119.37 512.10 121.35 513.63 123.90 515.60C126.45 517.57 129.58 519.80 132.40 521.50C135.22 523.20 137.98 524.62 140.80 525.80C143.62 526.98 146.47 527.85 149.30 528.60C152.13 529.35 153.57 529.65 157.80 530.30C162.03 530.95 169.05 531.78 174.70 532.50C180.35 533.22 185.82 534.10 191.70 534.60C197.58 535.10 201.95 535.25 210.00 535.50C218.05 535.75 232.50 535.77 240.00 536.10C247.50 536.43 250.00 536.97 255.00 537.50C260.00 538.03 264.17 538.90 270.00 539.30C275.83 539.70 285.00 539.75 290.00 539.90C295.00 540.05 295.00 540.30 300.00 540.20C305.00 540.10 312.50 539.70 320.00 539.30C327.50 538.90 336.67 537.92 345.00 537.80C353.33 537.68 363.33 538.23 370.00 538.60C376.67 538.97 380.00 539.50 385.00 540.00C390.00 540.50 395.00 541.02 400.00 541.60C405.00 542.18 410.00 542.85 415.00 543.50C420.00 544.15 423.33 544.68 430.00 545.50C436.67 546.32 446.67 547.78 455.00 548.40C463.33 549.02 472.50 548.93 480.00 549.20C487.50 549.47 491.67 549.93 500.00 550.00C508.33 550.07 522.50 549.43 530.00 549.60C537.50 549.77 540.00 550.43 545.00 551.00C550.00 551.57 554.00 552.47 560.00 553.00C566.00 553.53 573.50 554.27 581.00 554.20C588.50 554.13 597.50 553.27 605.00 552.60C612.50 551.93 617.50 550.80 626.00 550.20C634.50 549.60 647.00 549.20 656.00 549.00C665.00 548.80 671.00 548.83 680.00 549.00C689.00 549.17 702.25 549.75 710.00 550.00C717.75 550.25 723.75 550.42 726.50 550.50" transform="translate(-0.3 0.55)" stroke="#1c1cb0" stroke-width="7.8" fill="none" stroke-linecap="round" stroke-linejoin="round"/>
<path d="M96.80 456.30C96.93 457.57 97.18 460.95 97.60 463.90C98.02 466.85 98.58 470.62 99.30 474.00C100.02 477.38 100.90 481.08 101.90 484.20C102.90 487.32 103.90 489.87 105.30 492.70C106.70 495.53 108.33 498.37 110.30 501.20C112.27 504.03 114.83 507.30 117.10 509.70C119.37 512.10 121.35 513.63 123.90 515.60C126.45 517.57 129.58 519.80 132.40 521.50C135.22 523.20 137.98 524.62 140.80 525.80C143.62 526.98 146.47 527.85 149.30 528.60C152.13 529.35 153.57 529.65 157.80 530.30C162.03 530.95 171.88 532.13 174.70 532.50" transform="translate(-0.9 1.0)" stroke="#1c1cb0" stroke-width="8" fill="none" stroke-linecap="round" stroke-linejoin="round"/>
<path d="M96.80 456.30C96.93 457.57 97.18 460.95 97.60 463.90C98.02 466.85 98.58 470.62 99.30 474.00C100.02 477.38 100.90 481.08 101.90 484.20C102.90 487.32 103.90 489.87 105.30 492.70C106.70 495.53 108.33 498.37 110.30 501.20C112.27 504.03 114.83 507.30 117.10 509.70C119.37 512.10 121.35 513.63 123.90 515.60C126.45 517.57 129.58 519.80 132.40 521.50C135.22 523.20 137.98 524.62 140.80 525.80C143.62 526.98 146.47 527.85 149.30 528.60C152.13 529.35 153.57 529.65 157.80 530.30C162.03 530.95 169.05 531.78 174.70 532.50C180.35 533.22 185.82 534.10 191.70 534.60C197.58 535.10 201.95 535.25 210.00 535.50C218.05 535.75 232.50 535.77 240.00 536.10C247.50 536.43 250.00 536.97 255.00 537.50C260.00 538.03 264.17 538.90 270.00 539.30C275.83 539.70 285.00 539.75 290.00 539.90C295.00 540.05 295.00 540.30 300.00 540.20C305.00 540.10 312.50 539.70 320.00 539.30C327.50 538.90 336.67 537.92 345.00 537.80C353.33 537.68 363.33 538.23 370.00 538.60C376.67 538.97 380.00 539.50 385.00 540.00C390.00 540.50 395.00 541.02 400.00 541.60C405.00 542.18 410.00 542.85 415.00 543.50C420.00 544.15 423.33 544.68 430.00 545.50C436.67 546.32 446.67 547.78 455.00 548.40C463.33 549.02 472.50 548.93 480.00 549.20C487.50 549.47 491.67 549.93 500.00 550.00C508.33 550.07 522.50 549.43 530.00 549.60C537.50 549.77 540.00 550.43 545.00 551.00C550.00 551.57 554.00 552.47 560.00 553.00C566.00 553.53 573.50 554.27 581.00 554.20C588.50 554.13 597.50 553.27 605.00 552.60C612.50 551.93 617.50 550.80 626.00 550.20C634.50 549.60 647.00 549.20 656.00 549.00C665.00 548.80 671.00 548.83 680.00 549.00C689.00 549.17 702.25 549.75 710.00 550.00C717.75 550.25 723.75 550.42 726.50 550.50" stroke="#158b8b" stroke-width="8" fill="none" stroke-linecap="round" stroke-linejoin="round"/>
<path d="M96.80 456.30C96.93 457.57 97.18 460.95 97.60 463.90C98.02 466.85 98.58 470.62 99.30 474.00C100.02 477.38 100.90 481.08 101.90 484.20C102.90 487.32 103.90 489.87 105.30 492.70C106.70 495.53 108.33 498.37 110.30 501.20C112.27 504.03 114.83 507.30 117.10 509.70C119.37 512.10 121.35 513.63 123.90 515.60C126.45 517.57 129.58 519.80 132.40 521.50C135.22 523.20 137.98 524.62 140.80 525.80C143.62 526.98 146.47 527.85 149.30 528.60C152.13 529.35 153.57 529.65 157.80 530.30C162.03 530.95 169.05 531.78 174.70 532.50C180.35 533.22 185.82 534.10 191.70 534.60C197.58 535.10 201.95 535.25 210.00 535.50C218.05 535.75 232.50 535.77 240.00 536.10C247.50 536.43 250.00 536.97 255.00 537.50C260.00 538.03 264.17 538.90 270.00 539.30C275.83 539.70 285.00 539.75 290.00 539.90C295.00 540.05 295.00 540.30 300.00 540.20C305.00 540.10 312.50 539.70 320.00 539.30C327.50 538.90 336.67 537.92 345.00 537.80C353.33 537.68 363.33 538.23 370.00 538.60C376.67 538.97 380.00 539.50 385.00 540.00C390.00 540.50 395.00 541.02 400.00 541.60C405.00 542.18 410.00 542.85 415.00 543.50C420.00 544.15 423.33 544.68 430.00 545.50C436.67 546.32 446.67 547.78 455.00 548.40C463.33 549.02 472.50 548.93 480.00 549.20C487.50 549.47 491.67 549.93 500.00 550.00C508.33 550.07 522.50 549.43 530.00 549.60C537.50 549.77 540.00 550.43 545.00 551.00C550.00 551.57 554.00 552.47 560.00 553.00C566.00 553.53 573.50 554.27 581.00 554.20C588.50 554.13 597.50 553.27 605.00 552.60C612.50 551.93 617.50 550.80 626.00 550.20C634.50 549.60 647.00 549.20 656.00 549.00C665.00 548.80 671.00 548.83 680.00 549.00C689.00 549.17 702.25 549.75 710.00 550.00C717.75 550.25 723.75 550.42 726.50 550.50" transform="translate(-0.5 -1.2)" stroke="#2a9c9c" stroke-width="2" fill="none" stroke-dasharray="1.5 2.5" stroke-linecap="round" opacity="0.6"/>
<circle cx="636.0" cy="549.3" r="4.3" fill="#158b8b"/>
<circle cx="641.0" cy="549.8" r="4.3" fill="#158b8b"/>
<circle cx="645.8" cy="549.4" r="4.3" fill="#158b8b"/>
<circle cx="651.6" cy="548.2" r="4.3" fill="#158b8b"/>
<circle cx="657.8" cy="548.0" r="4.3" fill="#158b8b"/>
<circle cx="663.9" cy="548.0" r="4.3" fill="#158b8b"/>
<circle cx="668.7" cy="548.7" r="4.3" fill="#158b8b"/>
<circle cx="676.1" cy="548.1" r="4.3" fill="#158b8b"/>
<circle cx="681.3" cy="549.2" r="4.3" fill="#158b8b"/>
<circle cx="689.2" cy="549.4" r="4.3" fill="#158b8b"/>
<circle cx="695.1" cy="550.4" r="4.3" fill="#158b8b"/>
<circle cx="699.7" cy="550.3" r="4.3" fill="#158b8b"/>
<circle cx="705.2" cy="549.0" r="4.3" fill="#158b8b"/>
<circle cx="710.1" cy="549.5" r="4.3" fill="#158b8b"/>
<circle cx="717.5" cy="549.5" r="4.3" fill="#158b8b"/>
<circle cx="724.0" cy="550.6" r="4.3" fill="#158b8b"/>
<circle cx="96.1" cy="456.1" r="3.8" fill="url(#gB)"/>
<circle cx="96.3" cy="460.1" r="3.8" fill="url(#gB)"/>
<circle cx="96.6" cy="463.8" r="3.8" fill="url(#gB)"/>
<circle cx="97.0" cy="467.4" r="3.8" fill="url(#gB)"/>
<circle cx="97.4" cy="470.8" r="3.8" fill="url(#gB)"/>
<circle cx="97.9" cy="474.1" r="3.8" fill="url(#gB)"/>
<circle cx="98.5" cy="477.3" r="3.8" fill="url(#gB)"/>
<circle cx="99.1" cy="480.3" r="3.8" fill="url(#gB)"/>
<circle cx="99.8" cy="483.1" r="3.8" fill="url(#gB)"/>
<circle cx="100.6" cy="485.8" r="3.8" fill="url(#gB)"/>
<circle cx="101.4" cy="488.4" r="3.8" fill="url(#gB)"/>
<circle cx="102.3" cy="490.8" r="3.8" fill="url(#gB)"/>
<circle cx="103.3" cy="493.1" r="3.8" fill="url(#gB)"/>
<circle cx="104.3" cy="495.2" r="3.8" fill="url(#gB)"/>
<circle cx="97.0" cy="455.5" r="3.7" fill="url(#gT)"/>
<circle cx="97.2" cy="459.5" r="3.7" fill="url(#gT)"/>
<circle cx="97.5" cy="463.2" r="3.7" fill="url(#gT)"/>
<circle cx="97.9" cy="466.8" r="3.7" fill="url(#gT)"/>
<circle cx="98.3" cy="470.2" r="3.7" fill="url(#gT)"/>
<circle cx="98.8" cy="473.5" r="3.7" fill="url(#gT)"/>
<circle cx="99.4" cy="476.7" r="3.7" fill="url(#gT)"/>
<circle cx="100.0" cy="479.7" r="3.7" fill="url(#gT)"/>
<circle cx="100.7" cy="482.5" r="3.7" fill="url(#gT)"/>
<circle cx="101.5" cy="485.2" r="3.7" fill="url(#gT)"/>
<circle cx="102.3" cy="487.8" r="3.7" fill="url(#gT)"/>
<circle cx="103.2" cy="490.2" r="3.7" fill="url(#gT)"/>
<circle cx="104.2" cy="492.5" r="3.7" fill="url(#gT)"/>
<circle cx="105.2" cy="494.6" r="3.7" fill="url(#gT)"/>
<circle cx="96.6" cy="452.3" r="4" fill="url(#gB)"/>
<circle cx="97.0" cy="456.2" r="3.9" fill="url(#gT)"/>
<circle cx="726.6" cy="550.6" r="4.2" fill="url(#gT)"/>
<polygon points="93.4,439.2 94.5,438.3 95.6,436.5 96.7,435.9 97.8,435.0 98.9,434.1 100.0,434.2 101.1,433.7 102.2,433.5 103.3,433.3 104.4,433.8 105.5,434.1 106.6,434.2 107.7,433.5 108.8,433.4 109.9,433.6 111.0,433.7 112.1,433.4 113.2,433.8 114.3,434.1 115.4,433.6 116.5,433.5 117.6,433.9 118.7,434.2 119.8,434.0 120.9,434.1 122.0,434.1 123.1,433.8 124.2,434.1 125.3,433.7 126.4,433.5 127.5,433.9 128.6,433.9 129.7,433.3 130.8,434.0 131.9,434.0 133.0,433.7 134.1,434.2 135.2,433.9 136.3,433.3 137.4,433.7 138.5,433.6 139.6,433.4 140.7,433.4 141.8,433.8 142.9,434.1 144.0,434.1 145.1,434.0 146.2,433.9 147.3,434.2 148.4,434.1 149.5,434.2 150.6,433.6 151.7,434.0 152.8,433.9 153.9,433.4 155.0,433.8 156.1,434.1 157.2,433.9 158.3,433.5 159.4,434.2 160.5,433.7 161.6,433.7 162.7,433.7 163.8,433.4 164.9,434.0 166.0,434.0 167.1,433.7 168.2,433.9 169.3,433.5 170.4,433.4 171.5,433.5 172.6,434.0 173.7,433.9 174.8,434.2 175.9,434.0 177.0,433.3 178.1,433.4 179.2,433.3 180.3,434.0 181.4,434.0 182.5,433.6 183.6,433.4 184.7,433.6 185.8,434.1 186.9,433.4 188.0,433.5 189.1,434.0 190.2,433.9 191.3,433.3 192.4,433.8 193.5,433.5 194.6,434.1 195.7,433.4 196.8,434.1 197.9,433.3 199.0,433.9 200.1,434.1 201.2,433.3 202.3,433.7 203.4,433.8 204.5,433.5 205.6,434.0 206.7,434.0 207.8,434.0 208.9,434.1 210.0,433.9 211.1,433.7 212.2,433.8 213.3,433.7 214.4,433.7 215.5,433.8 216.6,434.2 217.7,434.0 218.8,433.5 219.9,433.9 221.0,433.7 222.1,434.1 223.2,434.0 224.3,433.5 225.4,433.7 226.5,433.4 227.6,433.6 228.7,433.7 229.8,433.8 230.9,433.8 232.0,433.6 233.1,433.4 234.2,433.7 235.3,433.4 236.4,434.1 237.5,434.1 238.6,434.1 239.7,433.5 240.8,434.1 241.9,433.6 243.0,433.4 244.1,434.0 245.2,433.8 246.3,433.3 247.4,434.1 248.5,433.7 249.6,434.0 250.7,433.6 251.8,433.7 252.9,434.2 254.0,433.6 255.1,434.1 256.2,433.5 257.3,434.1 258.4,434.2 259.5,434.0 260.6,433.8 261.7,433.5 262.8,434.1 263.9,433.7 265.0,434.1 266.1,433.6 267.2,434.1 268.3,433.6 269.4,434.1 270.5,434.1 271.6,433.8 272.7,433.7 273.8,434.0 274.9,433.7 276.0,434.1 277.1,434.2 278.2,433.9 279.3,433.5 280.4,433.7 281.5,433.9 282.6,434.0 283.7,433.5 284.8,434.0 285.9,433.4 287.0,433.5 288.1,433.8 289.2,433.8 290.3,433.6 291.4,433.9 292.5,433.6 293.6,433.8 294.7,434.2 295.8,434.1 296.9,434.0 298.0,434.1 299.1,433.4 300.2,433.9 301.3,433.9 302.4,434.1 303.5,434.0 304.6,433.3 305.7,434.0 306.8,433.9 307.9,434.2 309.0,433.8 310.1,434.0 311.2,434.2 312.3,434.1 313.4,434.2 314.5,433.9 315.6,433.7 316.7,433.5 317.8,433.6 318.9,433.8 320.0,433.3 321.1,433.5 322.2,434.2 323.3,433.4 324.4,433.5 325.5,434.1 326.6,433.7 327.7,433.5 328.8,433.7 329.9,433.6 331.0,434.0 332.1,434.1 333.2,434.1 334.3,433.7 335.4,433.6 336.5,433.8 337.6,433.5 338.7,433.7 339.8,433.6 340.9,433.5 342.0,434.1 343.1,433.5 344.2,433.5 345.3,433.8 346.4,433.8 347.5,433.5 348.6,433.6 349.7,434.1 350.8,433.5 351.9,433.7 353.0,434.1 354.1,433.6 355.2,433.6 356.3,433.7 357.4,433.8 358.5,433.4 359.6,433.3 360.7,434.2 361.8,433.5 362.9,433.8 364.0,434.0 365.1,434.0 366.2,434.1 367.3,433.3 368.4,433.5 369.5,433.4 370.6,434.0 371.7,433.8 372.8,434.2 373.9,433.8 375.0,434.1 376.1,433.9 377.2,434.2 378.3,433.4 379.4,433.4 380.5,433.4 381.6,433.9 382.7,433.3 383.8,433.9 384.9,434.0 386.0,434.1 387.1,433.9 388.2,434.0 389.3,433.7 390.4,433.9 391.5,433.4 392.6,433.6 393.7,433.4 394.8,433.6 395.9,433.5 397.0,433.5 398.1,433.9 399.2,433.4 400.3,433.8 401.4,433.9 402.5,433.3 403.6,433.6 404.7,433.7 405.8,434.0 406.9,434.0 408.0,433.8 409.1,433.4 410.2,433.8 411.3,434.0 412.4,433.9 413.5,434.0 414.6,433.7 415.7,433.5 416.8,433.8 417.9,433.9 419.0,434.1 420.1,433.3 421.2,433.7 422.3,433.4 423.4,434.0 424.5,433.8 425.6,433.3 426.7,433.4 427.8,434.2 428.9,433.4 430.0,433.7 431.1,433.8 432.2,433.5 433.3,433.3 434.4,434.1 435.5,433.7 436.6,433.4 437.7,433.6 438.8,433.8 439.9,434.2 441.0,434.0 442.1,433.6 443.2,434.1 444.3,433.6 445.4,434.1 446.5,433.7 447.6,433.9 448.7,433.7 449.8,433.9 450.9,433.3 452.0,433.4 453.1,434.0 454.2,433.3 455.3,433.9 456.4,433.8 457.5,433.8 458.6,433.6 459.7,434.0 460.8,433.9 461.9,433.6 463.0,433.5 464.1,433.7 465.2,433.3 466.3,433.5 467.4,434.0 468.5,433.9 469.6,433.8 470.7,434.0 471.8,433.6 472.9,434.1 474.0,434.0 475.1,434.1 476.2,434.1 477.3,433.4 478.4,433.5 479.5,433.4 480.6,434.0 481.7,433.5 482.8,433.6 483.9,433.9 485.0,434.0 486.1,433.9 487.2,433.3 488.3,433.3 489.4,433.9 490.5,433.5 491.6,434.2 492.7,433.9 493.8,434.0 494.9,433.4 496.0,433.8 497.1,433.5 498.2,434.2 499.3,433.4 500.4,433.5 501.5,433.9 502.6,433.3 503.7,434.0 504.8,433.9 505.9,434.2 507.0,433.4 508.1,433.4 509.2,434.0 510.3,433.3 511.4,433.9 512.5,433.8 513.6,433.4 514.7,433.5 515.8,433.5 516.9,433.7 518.0,433.9 519.1,433.5 520.2,434.0 521.3,434.0 522.4,434.2 523.5,433.9 524.6,433.4 525.7,434.0 526.8,434.1 527.9,433.6 529.0,434.0 530.1,433.6 531.2,433.5 532.3,433.6 533.4,433.4 534.5,433.7 535.6,433.5 536.7,434.0 537.8,434.1 538.9,433.7 540.0,433.8 541.1,433.7 542.2,433.5 543.3,433.3 544.4,433.8 545.5,433.4 546.6,434.2 547.7,434.1 548.8,433.3 549.9,433.4 551.0,433.4 552.1,434.0 553.2,433.3 554.3,433.7 555.4,434.0 556.5,434.1 557.6,434.0 558.7,433.6 559.8,434.2 560.9,433.6 562.0,433.9 563.1,433.5 564.2,434.1 565.3,433.8 566.4,433.6 567.5,434.1 568.6,433.8 569.7,433.9 570.8,433.9 571.9,433.9 573.0,433.4 574.1,433.9 575.2,433.5 576.3,434.2 577.4,433.8 578.5,433.8 579.6,433.8 580.7,434.2 581.8,433.6 582.9,434.1 584.0,433.9 585.1,434.1 586.2,433.7 587.3,434.1 588.4,433.5 589.5,434.0 590.6,433.4 591.7,433.8 592.8,433.4 593.9,433.4 595.0,433.5 596.1,433.5 597.2,433.8 598.3,433.5 599.4,434.0 600.5,433.7 601.6,434.1 602.7,433.5 603.8,434.2 604.9,433.5 606.0,433.4 607.1,433.7 608.2,433.6 609.3,433.8 610.4,433.8 611.5,433.8 612.6,434.2 613.7,433.8 614.8,433.5 615.9,433.8 617.0,433.8 618.1,434.1 619.2,434.1 620.3,433.7 621.4,433.6 622.5,433.5 623.6,433.7 624.7,433.7 625.8,433.3 626.9,433.4 628.0,433.5 629.1,434.0 630.2,433.8 631.3,433.4 632.4,433.5 633.5,434.1 634.6,433.5 635.7,433.4 636.8,433.5 637.9,433.7 639.0,434.0 640.1,433.7 641.2,434.2 642.3,434.1 643.4,433.6 644.5,434.0 645.6,434.1 646.7,433.6 647.8,433.4 648.9,433.7 650.0,434.1 651.1,433.6 652.2,433.5 653.3,433.3 654.4,433.9 655.5,433.8 656.6,433.5 657.7,433.5 658.8,433.6 659.9,433.7 661.0,433.9 662.1,434.2 663.2,433.6 664.3,433.7 665.4,434.1 666.5,433.6 667.6,434.2 668.7,434.1 669.8,434.0 670.9,433.7 672.0,433.6 673.1,434.1 674.2,434.0 675.3,434.1 676.4,433.4 677.5,433.8 678.6,434.2 679.7,433.7 680.8,433.6 681.9,433.4 683.0,434.0 684.1,434.2 685.2,433.8 686.3,434.1 687.4,434.2 688.5,433.4 689.6,434.0 690.7,433.7 691.8,433.5 692.9,433.9 694.0,434.2 695.1,433.5 696.2,434.2 697.3,433.5 698.4,433.5 699.5,434.0 700.6,434.0 701.7,433.9 702.8,433.6 703.9,433.6 705.0,433.7 706.1,433.5 707.2,434.0 708.3,433.3 709.4,433.4 710.5,434.0 711.6,433.5 712.7,433.5 713.8,433.4 714.9,434.0 716.0,433.6 717.1,433.6 718.2,433.8 719.3,433.6 720.4,433.8 721.5,433.7 722.6,434.0 723.7,434.1 724.8,434.1 725.9,434.1 727.0,433.9 727.0,441.9 725.9,442.6 724.8,441.8 723.7,442.6 722.6,442.4 721.5,442.1 720.4,442.5 719.3,442.6 718.2,442.6 717.1,442.7 716.0,442.4 714.9,442.6 713.8,442.1 712.7,442.1 711.6,442.7 710.5,442.0 709.4,441.8 708.3,442.0 707.2,442.4 706.1,442.3 705.0,442.2 703.9,442.0 702.8,442.6 701.7,442.5 700.6,441.8 699.5,441.9 698.4,442.2 697.3,442.2 696.2,442.6 695.1,442.4 694.0,442.6 692.9,442.1 691.8,442.0 690.7,442.4 689.6,442.3 688.5,441.9 687.4,442.3 686.3,442.5 685.2,442.0 684.1,442.3 683.0,442.6 681.9,442.5 680.8,442.2 679.7,442.1 678.6,442.4 677.5,442.0 676.4,442.5 675.3,442.4 674.2,441.9 673.1,442.6 672.0,442.2 670.9,442.0 669.8,442.3 668.7,442.1 667.6,442.1 666.5,441.8 665.4,442.0 664.3,442.6 663.2,442.2 662.1,441.9 661.0,441.8 659.9,442.4 658.8,442.7 657.7,442.0 656.6,441.8 655.5,442.0 654.4,442.5 653.3,442.3 652.2,442.0 651.1,442.2 650.0,442.7 648.9,442.6 647.8,442.3 646.7,442.1 645.6,442.3 644.5,442.5 643.4,442.6 642.3,442.6 641.2,442.0 640.1,442.1 639.0,442.0 637.9,442.6 636.8,441.9 635.7,442.0 634.6,441.9 633.5,442.1 632.4,442.6 631.3,441.9 630.2,442.7 629.1,442.7 628.0,442.5 626.9,442.7 625.8,441.9 624.7,442.1 623.6,441.8 622.5,442.5 621.4,441.9 620.3,441.8 619.2,442.2 618.1,442.2 617.0,441.9 615.9,442.0 614.8,442.5 613.7,442.0 612.6,442.4 611.5,442.2 610.4,442.4 609.3,442.3 608.2,442.1 607.1,442.3 606.0,441.9 604.9,441.8 603.8,442.3 602.7,442.6 601.6,442.0 600.5,442.1 599.4,442.2 598.3,442.0 597.2,442.6 596.1,442.0 595.0,441.9 593.9,442.4 592.8,442.1 591.7,441.8 590.6,442.7 589.5,441.9 588.4,442.7 587.3,442.2 586.2,442.6 585.1,442.1 584.0,442.3 582.9,442.4 581.8,442.6 580.7,442.3 579.6,441.9 578.5,442.6 577.4,442.5 576.3,442.6 575.2,442.0 574.1,442.0 573.0,442.7 571.9,442.2 570.8,442.3 569.7,442.7 568.6,442.1 567.5,442.4 566.4,441.9 565.3,442.3 564.2,441.9 563.1,442.3 562.0,442.0 560.9,442.0 559.8,442.1 558.7,442.0 557.6,442.3 556.5,442.0 555.4,442.1 554.3,442.4 553.2,441.9 552.1,442.5 551.0,442.2 549.9,442.1 548.8,442.3 547.7,442.0 546.6,442.1 545.5,442.6 544.4,442.5 543.3,441.9 542.2,442.4 541.1,442.0 540.0,442.7 538.9,442.1 537.8,442.6 536.7,442.0 535.6,442.0 534.5,442.1 533.4,442.1 532.3,441.9 531.2,442.6 530.1,442.4 529.0,442.2 527.9,442.2 526.8,442.2 525.7,441.9 524.6,442.7 523.5,442.7 522.4,442.3 521.3,441.9 520.2,442.5 519.1,441.9 518.0,442.1 516.9,442.1 515.8,442.5 514.7,442.5 513.6,442.0 512.5,442.2 511.4,442.0 510.3,442.7 509.2,442.2 508.1,441.8 507.0,442.4 505.9,442.5 504.8,442.0 503.7,442.4 502.6,442.4 501.5,442.0 500.4,442.6 499.3,442.0 498.2,441.9 497.1,441.8 496.0,442.5 494.9,441.8 493.8,442.1 492.7,442.6 491.6,442.2 490.5,442.2 489.4,442.5 488.3,442.0 487.2,441.9 486.1,442.1 485.0,441.8 483.9,442.1 482.8,442.1 481.7,441.8 480.6,442.6 479.5,442.1 478.4,442.7 477.3,442.6 476.2,442.2 475.1,441.8 474.0,442.7 472.9,442.2 471.8,442.7 470.7,442.2 469.6,442.0 468.5,442.7 467.4,442.5 466.3,442.0 465.2,442.1 464.1,442.0 463.0,442.5 461.9,442.0 460.8,442.2 459.7,441.8 458.6,442.6 457.5,442.0 456.4,442.4 455.3,441.8 454.2,442.4 453.1,442.0 452.0,442.2 450.9,442.4 449.8,442.2 448.7,441.8 447.6,442.0 446.5,442.3 445.4,441.9 444.3,442.4 443.2,442.0 442.1,442.1 441.0,442.6 439.9,442.5 438.8,442.3 437.7,442.5 436.6,442.4 435.5,442.4 434.4,441.9 433.3,442.0 432.2,442.6 431.1,442.6 430.0,441.8 428.9,442.2 427.8,442.4 426.7,441.8 425.6,442.6 424.5,442.2 423.4,442.0 422.3,442.0 421.2,442.4 420.1,441.9 419.0,442.0 417.9,442.1 416.8,442.3 415.7,442.2 414.6,442.6 413.5,442.0 412.4,441.9 411.3,441.9 410.2,441.9 409.1,442.7 408.0,442.0 406.9,442.6 405.8,441.9 404.7,442.2 403.6,442.1 402.5,442.0 401.4,442.5 400.3,442.1 399.2,441.9 398.1,441.8 397.0,442.4 395.9,442.2 394.8,441.8 393.7,442.3 392.6,442.6 391.5,442.5 390.4,442.7 389.3,442.0 388.2,442.0 387.1,442.6 386.0,442.6 384.9,441.8 383.8,442.2 382.7,442.3 381.6,442.2 380.5,442.1 379.4,442.4 378.3,441.9 377.2,442.5 376.1,442.6 375.0,442.1 373.9,442.1 372.8,442.2 371.7,441.8 370.6,442.6 369.5,442.4 368.4,442.3 367.3,441.9 366.2,442.3 365.1,442.3 364.0,442.7 362.9,442.0 361.8,442.7 360.7,442.2 359.6,442.6 358.5,442.0 357.4,441.9 356.3,442.2 355.2,442.1 354.1,442.4 353.0,442.0 351.9,441.8 350.8,442.1 349.7,442.0 348.6,441.9 347.5,442.4 346.4,442.4 345.3,442.1 344.2,442.7 343.1,442.0 342.0,442.0 340.9,442.0 339.8,441.9 338.7,442.3 337.6,442.5 336.5,441.8 335.4,442.4 334.3,442.4 333.2,442.6 332.1,442.1 331.0,441.8 329.9,442.4 328.8,442.6 327.7,442.5 326.6,442.6 325.5,442.3 324.4,442.5 323.3,442.4 322.2,442.6 321.1,442.4 320.0,441.9 318.9,442.1 317.8,442.6 316.7,442.4 315.6,442.3 314.5,442.0 313.4,441.8 312.3,442.2 311.2,442.0 310.1,442.3 309.0,442.3 307.9,442.1 306.8,442.1 305.7,442.7 304.6,442.3 303.5,442.7 302.4,442.2 301.3,442.2 300.2,442.0 299.1,442.4 298.0,442.6 296.9,441.9 295.8,442.5 294.7,441.9 293.6,442.1 292.5,442.4 291.4,442.5 290.3,442.7 289.2,442.3 288.1,442.6 287.0,442.2 285.9,441.9 284.8,442.2 283.7,442.3 282.6,441.8 281.5,441.8 280.4,442.0 279.3,442.1 278.2,442.1 277.1,442.0 276.0,441.9 274.9,442.0 273.8,441.9 272.7,442.6 271.6,442.1 270.5,442.6 269.4,442.6 268.3,442.5 267.2,442.6 266.1,442.2 265.0,441.9 263.9,442.4 262.8,442.6 261.7,442.0 260.6,442.6 259.5,441.9 258.4,442.5 257.3,442.0 256.2,442.7 255.1,442.7 254.0,442.3 252.9,442.1 251.8,442.2 250.7,441.8 249.6,442.1 248.5,442.1 247.4,442.2 246.3,442.5 245.2,442.2 244.1,442.7 243.0,442.7 241.9,441.9 240.8,442.4 239.7,442.6 238.6,442.4 237.5,442.0 236.4,442.2 235.3,441.9 234.2,442.6 233.1,442.0 232.0,442.6 230.9,442.6 229.8,442.3 228.7,442.4 227.6,442.3 226.5,442.2 225.4,442.5 224.3,442.3 223.2,442.0 222.1,442.3 221.0,442.5 219.9,442.3 218.8,442.3 217.7,442.2 216.6,442.5 215.5,442.0 214.4,441.8 213.3,442.3 212.2,442.6 211.1,442.6 210.0,442.2 208.9,442.6 207.8,442.2 206.7,442.3 205.6,442.1 204.5,442.0 203.4,442.6 202.3,442.6 201.2,442.4 200.1,441.8 199.0,442.3 197.9,442.4 196.8,442.5 195.7,442.5 194.6,441.9 193.5,442.0 192.4,442.7 191.3,442.2 190.2,442.5 189.1,442.5 188.0,442.2 186.9,442.5 185.8,442.4 184.7,442.5 183.6,442.2 182.5,442.6 181.4,442.0 180.3,442.0 179.2,442.1 178.1,442.7 177.0,442.2 175.9,442.4 174.8,442.1 173.7,441.8 172.6,442.3 171.5,442.5 170.4,442.5 169.3,442.7 168.2,442.0 167.1,442.5 166.0,442.5 164.9,442.1 163.8,442.4 162.7,442.7 161.6,441.8 160.5,441.9 159.4,442.7 158.3,441.9 157.2,442.0 156.1,441.9 155.0,442.2 153.9,442.7 152.8,441.9 151.7,442.1 150.6,441.9 149.5,442.6 148.4,442.1 147.3,441.9 146.2,441.8 145.1,441.9 144.0,441.9 142.9,442.4 141.8,442.2 140.7,442.5 139.6,442.5 138.5,441.8 137.4,442.4 136.3,442.4 135.2,442.3 134.1,442.2 133.0,442.0 131.9,442.2 130.8,442.0 129.7,441.9 128.6,442.6 127.5,442.2 126.4,442.6 125.3,442.6 124.2,442.2 123.1,442.6 122.0,442.0 120.9,442.5 119.8,441.9 118.7,442.2 117.6,442.4 116.5,442.1 115.4,442.7 114.3,442.4 113.2,442.4 112.1,442.7 111.0,442.2 109.9,442.3 108.8,442.1 107.7,442.3 106.6,442.4 105.5,442.2 104.4,442.5 103.3,441.9 102.2,442.1 101.1,442.6 100.0,442.3 98.9,442.5 97.8,442.5 96.7,443.3 95.6,443.9 94.5,444.6 93.4,445.6" fill="#800080"/>
<rect x="92.3" y="418.0" width="636.1" height="234.2" fill="none" stroke="#000" stroke-width="2.2"/>
<path d="M92.3 652.2h-4.4M92.3 600.0h-4.4M92.3 547.9h-4.4M92.3 495.7h-4.4M92.3 443.5h-4.4M92.3 626.1h-2.6M92.3 573.9h-2.6M92.3 521.8h-2.6M92.3 469.6h-2.6M728.4 652.2h4.4M728.4 598.9h4.4M728.4 545.6h4.4M728.4 492.3h4.4M728.4 439.0h4.4M728.4 625.6h2.6M728.4 572.2h2.6M728.4 519.0h2.6M728.4 465.7h2.6M95.2 652.2v4.6M158.3 652.2v4.6M221.4 652.2v4.6M284.4 652.2v4.6M347.5 652.2v4.6M410.6 652.2v4.6M473.7 652.2v4.6M536.8 652.2v4.6M599.8 652.2v4.6M662.9 652.2v4.6M726.0 652.2v4.6M126.7 652.2v2.6M189.8 652.2v2.6M252.9 652.2v2.6M316.0 652.2v2.6M379.1 652.2v2.6M442.1 652.2v2.6M505.2 652.2v2.6M568.3 652.2v2.6M631.4 652.2v2.6M694.5 652.2v2.6" stroke="#000" stroke-width="1.9" fill="none"/>
<g font-family="'Liberation Serif',serif" font-weight="bold" font-size="18.2" fill="#000">
<text x="88.6" y="658.1" text-anchor="end">0</text>
<text x="88.6" y="605.9" text-anchor="end">400</text>
<text x="88.6" y="553.8" text-anchor="end">800</text>
<text x="88.6" y="501.6" text-anchor="end">1200</text>
<text x="88.6" y="449.4" text-anchor="end">1600</text>
<text x="736.6" y="658.1">0</text>
<text x="736.6" y="604.8">25</text>
<text x="736.6" y="551.5">50</text>
<text x="736.6" y="498.2">75</text>
<text x="736.6" y="444.9">100</text>
<text x="94.5" y="673.6" text-anchor="middle">0</text>
<text x="157.6" y="673.6" text-anchor="middle">100</text>
<text x="220.7" y="673.6" text-anchor="middle">200</text>
<text x="283.7" y="673.6" text-anchor="middle">300</text>
<text x="346.8" y="673.6" text-anchor="middle">400</text>
<text x="409.9" y="673.6" text-anchor="middle">500</text>
<text x="473.0" y="673.6" text-anchor="middle">600</text>
<text x="536.1" y="673.6" text-anchor="middle">700</text>
<text x="599.1" y="673.6" text-anchor="middle">800</text>
<text x="662.2" y="673.6" text-anchor="middle">900</text>
<text x="724.4" y="673.6" text-anchor="middle">1000</text>
<text x="415.7" y="695.2" text-anchor="middle" font-size="18.1">Cycle number</text>
<text transform="translate(38.8 535.3) rotate(-90)" text-anchor="middle" font-size="18">Specific capacity / mAh g<tspan font-size="13" dy="-7">-1</tspan></text>
<text transform="translate(772.7 541.5) rotate(-90)" text-anchor="middle" font-size="18.3">Coulombic efficiency / %</text>
</g>
<g font-family="'Liberation Serif',serif" font-weight="bold" font-size="13.6" fill="#000">
<text x="131.2" y="464.2">1520 mAh/g</text>
<text x="356" y="526.4">1A/g current density</text>
<text x="631" y="534.6">781.4 mAh/g</text>
<text x="615.4" y="471.8">Discharge</text>
<text x="612.2" y="494.6">Charge</text>
<text x="615" y="516.2">CE</text>
<text x="443" y="571" font-size="15.3">-6.404 e<tspan font-size="10.8" dy="-4">-2</tspan></text>
<text x="591.8" y="571" font-size="15.3" textLength="43" lengthAdjust="spacingAndGlyphs">6.404 e</text>
<text x="635.6" y="567" font-size="10.8">2</text>
<text x="541.8" y="626.3" text-anchor="middle" font-size="16.2">ESP ( kcal/mol)</text>
</g>
<path d="M100.4 456.3L122 452.6" stroke="#000" stroke-width="1.7" fill="none"/>
<path d="M130.2 451.2L119.2 449.6L121.4 452.7L120.4 456.6Z" fill="#000"/>
<path d="M720.6 543.8L707 537.4" stroke="#000" stroke-width="1.6" fill="none"/>
<path d="M700.6 534.6L710.2 535.0L707.9 537.8L708.2 541.8Z" fill="#000"/>
<circle cx="596.6" cy="467.6" r="3.7" fill="url(#gT)"/>
<circle cx="596.6" cy="490.6" r="3.7" fill="url(#gB)"/>
<polygon points="596.60,507.50 597.66,510.44 600.78,510.54 598.31,512.46 599.19,515.46 596.60,513.70 594.01,515.46 594.89,512.46 592.42,510.54 595.54,510.44" fill="#800080"/>
<rect x="438" y="583.6" width="208.4" height="21.8" fill="url(#rb)"/></g>
<g id="esp"><g filter="url(#goo)" fill="#d3d6a2">
<circle cx="185.4" cy="589.4" r="12.9"/>
<circle cx="176.5" cy="594.6" r="12.9"/>
<circle cx="167.5" cy="589.4" r="12.9"/>
<circle cx="167.5" cy="579.0" r="12.9"/>
<circle cx="176.5" cy="573.9" r="12.9"/>
<circle cx="185.4" cy="579.0" r="12.9"/>
<circle cx="194.4" cy="573.9" r="12.9"/>
<circle cx="203.3" cy="579.0" r="12.9"/>
<circle cx="213.2" cy="575.8" r="12.9"/>
<circle cx="216.4" cy="566.0" r="12.9"/>
<circle cx="194.4" cy="594.6" r="12.9"/>
<circle cx="203.3" cy="589.4" r="12.9"/>
<circle cx="213.2" cy="592.6" r="12.9"/>
<circle cx="216.4" cy="602.4" r="12.9"/>
<circle cx="219.3" cy="584.2" r="12.9"/>
<circle cx="176.5" cy="604.9" r="12.9"/>
<circle cx="167.5" cy="610.1" r="12.9"/>
<circle cx="165.3" cy="620.2" r="12.9"/>
<circle cx="172.3" cy="627.9" r="12.9"/>
<circle cx="158.5" cy="594.6" r="12.9"/>
<circle cx="158.5" cy="604.9" r="12.9"/>
<circle cx="150.8" cy="611.8" r="12.9"/>
<circle cx="140.7" cy="609.7" r="12.9"/>
<circle cx="155.0" cy="621.3" r="12.9"/>
<circle cx="159.9" cy="574.6" r="10.0"/>
<circle cx="176.5" cy="565.1" r="10.0"/>
<circle cx="150.6" cy="628.9" r="12.0"/>
<circle cx="325.6" cy="579.0" r="12.9"/>
<circle cx="334.5" cy="573.9" r="12.9"/>
<circle cx="343.5" cy="579.0" r="12.9"/>
<circle cx="343.5" cy="589.4" r="12.9"/>
<circle cx="334.5" cy="594.6" r="12.9"/>
<circle cx="325.6" cy="589.4" r="12.9"/>
<circle cx="316.6" cy="594.6" r="12.9"/>
<circle cx="307.7" cy="589.4" r="12.9"/>
<circle cx="297.8" cy="592.6" r="12.9"/>
<circle cx="294.6" cy="602.4" r="12.9"/>
<circle cx="316.6" cy="573.9" r="12.9"/>
<circle cx="307.7" cy="579.0" r="12.9"/>
<circle cx="297.8" cy="575.8" r="12.9"/>
<circle cx="294.6" cy="566.0" r="12.9"/>
<circle cx="291.7" cy="584.2" r="12.9"/>
<circle cx="352.5" cy="594.6" r="12.9"/>
<circle cx="352.5" cy="604.9" r="12.9"/>
<circle cx="360.2" cy="611.8" r="12.9"/>
<circle cx="370.3" cy="609.7" r="12.9"/>
<circle cx="334.5" cy="604.9" r="12.9"/>
<circle cx="343.5" cy="610.1" r="12.9"/>
<circle cx="345.7" cy="620.2" r="12.9"/>
<circle cx="338.7" cy="627.9" r="12.9"/>
<circle cx="356.0" cy="621.3" r="12.9"/>
<circle cx="334.5" cy="565.1" r="10.0"/>
<circle cx="351.1" cy="574.6" r="10.0"/>
<circle cx="360.4" cy="628.9" r="12.0"/>
<circle cx="260.7" cy="584.2" r="12.9"/>
<circle cx="250.3" cy="584.2" r="12.9"/>
<circle cx="265.9" cy="576.8" r="12.9"/>
<circle cx="276.2" cy="576.8" r="12.9"/>
<circle cx="281.4" cy="584.2" r="12.9"/>
<circle cx="276.2" cy="591.6" r="12.9"/>
<circle cx="265.9" cy="591.6" r="12.9"/>
<circle cx="245.2" cy="576.8" r="12.9"/>
<circle cx="234.8" cy="576.8" r="12.9"/>
<circle cx="229.6" cy="584.2" r="12.9"/>
<circle cx="234.8" cy="591.6" r="12.9"/>
<circle cx="245.2" cy="591.6" r="12.9"/>
<circle cx="260.7" cy="569.3" r="12.9"/>
<circle cx="250.3" cy="569.3" r="12.9"/>
<circle cx="260.7" cy="599.1" r="12.9"/>
<circle cx="250.3" cy="599.1" r="12.9"/>
<circle cx="245.2" cy="561.9" r="12.9"/>
<circle cx="229.6" cy="569.5" r="10.0"/>
<circle cx="245.2" cy="606.5" r="12.9"/>
<circle cx="229.6" cy="598.9" r="10.0"/>
<circle cx="265.9" cy="561.9" r="12.9"/>
<circle cx="281.4" cy="569.5" r="10.0"/>
<circle cx="265.9" cy="606.5" r="12.9"/>
<circle cx="281.4" cy="598.9" r="10.0"/>
</g>
<g clip-path="url(#espclip)">
<g filter="url(#goo2)" fill="#d9eae4">
<circle cx="185.4" cy="588.9" r="10.3"/>
<circle cx="176.5" cy="594.1" r="10.3"/>
<circle cx="167.5" cy="588.9" r="10.3"/>
<circle cx="167.5" cy="578.5" r="10.3"/>
<circle cx="176.5" cy="573.4" r="10.3"/>
<circle cx="185.4" cy="578.5" r="10.3"/>
<circle cx="194.4" cy="573.4" r="10.3"/>
<circle cx="203.3" cy="578.5" r="10.3"/>
<circle cx="213.2" cy="575.3" r="10.3"/>
<circle cx="216.4" cy="565.5" r="10.3"/>
<circle cx="194.4" cy="594.1" r="10.3"/>
<circle cx="203.3" cy="588.9" r="10.3"/>
<circle cx="213.2" cy="592.1" r="10.3"/>
<circle cx="216.4" cy="601.9" r="10.3"/>
<circle cx="219.3" cy="583.7" r="10.3"/>
<circle cx="176.5" cy="604.4" r="10.3"/>
<circle cx="167.5" cy="609.6" r="10.3"/>
<circle cx="165.3" cy="619.7" r="10.3"/>
<circle cx="172.3" cy="627.4" r="10.3"/>
<circle cx="158.5" cy="594.1" r="10.3"/>
<circle cx="158.5" cy="604.4" r="10.3"/>
<circle cx="150.8" cy="611.3" r="10.3"/>
<circle cx="140.7" cy="609.2" r="10.3"/>
<circle cx="155.0" cy="620.8" r="10.3"/>
<circle cx="159.9" cy="574.1" r="7.4"/>
<circle cx="176.5" cy="564.6" r="7.4"/>
<circle cx="150.6" cy="628.4" r="9.4"/>
<circle cx="325.6" cy="578.5" r="10.3"/>
<circle cx="334.5" cy="573.4" r="10.3"/>
<circle cx="343.5" cy="578.5" r="10.3"/>
<circle cx="343.5" cy="588.9" r="10.3"/>
<circle cx="334.5" cy="594.1" r="10.3"/>
<circle cx="325.6" cy="588.9" r="10.3"/>
<circle cx="316.6" cy="594.1" r="10.3"/>
<circle cx="307.7" cy="588.9" r="10.3"/>
<circle cx="297.8" cy="592.1" r="10.3"/>
<circle cx="294.6" cy="601.9" r="10.3"/>
<circle cx="316.6" cy="573.4" r="10.3"/>
<circle cx="307.7" cy="578.5" r="10.3"/>
<circle cx="297.8" cy="575.3" r="10.3"/>
<circle cx="294.6" cy="565.5" r="10.3"/>
<circle cx="291.7" cy="583.7" r="10.3"/>
<circle cx="352.5" cy="594.1" r="10.3"/>
<circle cx="352.5" cy="604.4" r="10.3"/>
<circle cx="360.2" cy="611.3" r="10.3"/>
<circle cx="370.3" cy="609.2" r="10.3"/>
<circle cx="334.5" cy="604.4" r="10.3"/>
<circle cx="343.5" cy="609.6" r="10.3"/>
<circle cx="345.7" cy="619.7" r="10.3"/>
<circle cx="338.7" cy="627.4" r="10.3"/>
<circle cx="356.0" cy="620.8" r="10.3"/>
<circle cx="334.5" cy="564.6" r="7.4"/>
<circle cx="351.1" cy="574.1" r="7.4"/>
<circle cx="360.4" cy="628.4" r="9.4"/>
<circle cx="260.7" cy="583.7" r="10.3"/>
<circle cx="250.3" cy="583.7" r="10.3"/>
<circle cx="265.9" cy="576.3" r="10.3"/>
<circle cx="276.2" cy="576.3" r="10.3"/>
<circle cx="281.4" cy="583.7" r="10.3"/>
<circle cx="276.2" cy="591.1" r="10.3"/>
<circle cx="265.9" cy="591.1" r="10.3"/>
<circle cx="245.2" cy="576.3" r="10.3"/>
<circle cx="234.8" cy="576.3" r="10.3"/>
<circle cx="229.6" cy="583.7" r="10.3"/>
<circle cx="234.8" cy="591.1" r="10.3"/>
<circle cx="245.2" cy="591.1" r="10.3"/>
<circle cx="260.7" cy="568.8" r="10.3"/>
<circle cx="250.3" cy="568.8" r="10.3"/>
<circle cx="260.7" cy="598.6" r="10.3"/>
<circle cx="250.3" cy="598.6" r="10.3"/>
<circle cx="245.2" cy="561.4" r="10.3"/>
<circle cx="229.6" cy="569.0" r="7.4"/>
<circle cx="245.2" cy="606.0" r="10.3"/>
<circle cx="229.6" cy="598.4" r="7.4"/>
<circle cx="265.9" cy="561.4" r="10.3"/>
<circle cx="281.4" cy="569.0" r="7.4"/>
<circle cx="265.9" cy="606.0" r="10.3"/>
<circle cx="281.4" cy="598.4" r="7.4"/>
</g>
<g filter="url(#bl3)" opacity="0.7">
<circle cx="216.4" cy="613.4" r="7" fill="#f2a040"/>
<circle cx="172.3" cy="638.9" r="7" fill="#f2a040"/>
<circle cx="140.7" cy="620.7" r="7" fill="#f2a040"/>
<circle cx="294.6" cy="613.4" r="7" fill="#f2a040"/>
<circle cx="370.3" cy="620.7" r="7" fill="#f2a040"/>
<circle cx="338.7" cy="638.9" r="7" fill="#f2a040"/>
<circle cx="245.2" cy="617.5" r="7" fill="#f2a040"/>
<circle cx="265.9" cy="617.5" r="7" fill="#f2a040"/>
</g>
<g filter="url(#bl3)" opacity="0.95">
<circle cx="185.4" cy="589.4" r="6.8" fill="#8ad0e6"/>
<circle cx="176.5" cy="594.6" r="6.8" fill="#8ad0e6"/>
<circle cx="167.5" cy="589.4" r="6.8" fill="#8ad0e6"/>
<circle cx="167.5" cy="579.0" r="6.8" fill="#8ad0e6"/>
<circle cx="176.5" cy="573.9" r="6.8" fill="#8ad0e6"/>
<circle cx="185.4" cy="579.0" r="6.8" fill="#8ad0e6"/>
<circle cx="194.4" cy="573.9" r="6.8" fill="#8ad0e6"/>
<circle cx="203.3" cy="579.0" r="6.8" fill="#8ad0e6"/>
<circle cx="213.2" cy="575.8" r="6.8" fill="#8ad0e6"/>
<circle cx="194.4" cy="594.6" r="6.8" fill="#8ad0e6"/>
<circle cx="203.3" cy="589.4" r="6.8" fill="#8ad0e6"/>
<circle cx="213.2" cy="592.6" r="6.8" fill="#8ad0e6"/>
<circle cx="219.3" cy="584.2" r="6.8" fill="#8ad0e6"/>
<circle cx="176.5" cy="604.9" r="6.8" fill="#8ad0e6"/>
<circle cx="167.5" cy="610.1" r="6.8" fill="#8ad0e6"/>
<circle cx="165.3" cy="620.2" r="6.8" fill="#8ad0e6"/>
<circle cx="158.5" cy="594.6" r="6.8" fill="#8ad0e6"/>
<circle cx="158.5" cy="604.9" r="6.8" fill="#8ad0e6"/>
<circle cx="150.8" cy="611.8" r="6.8" fill="#8ad0e6"/>
<circle cx="155.0" cy="621.3" r="6.8" fill="#8ad0e6"/>
<circle cx="325.6" cy="579.0" r="6.8" fill="#8ad0e6"/>
<circle cx="334.5" cy="573.9" r="6.8" fill="#8ad0e6"/>
<circle cx="343.5" cy="579.0" r="6.8" fill="#8ad0e6"/>
<circle cx="343.5" cy="589.4" r="6.8" fill="#8ad0e6"/>
<circle cx="334.5" cy="594.6" r="6.8" fill="#8ad0e6"/>
<circle cx="325.6" cy="589.4" r="6.8" fill="#8ad0e6"/>
<circle cx="316.6" cy="594.6" r="6.8" fill="#8ad0e6"/>
<circle cx="307.7" cy="589.4" r="6.8" fill="#8ad0e6"/>
<circle cx="297.8" cy="592.6" r="6.8" fill="#8ad0e6"/>
<circle cx="316.6" cy="573.9" r="6.8" fill="#8ad0e6"/>
<circle cx="307.7" cy="579.0" r="6.8" fill="#8ad0e6"/>
<circle cx="297.8" cy="575.8" r="6.8" fill="#8ad0e6"/>
<circle cx="291.7" cy="584.2" r="6.8" fill="#8ad0e6"/>
<circle cx="352.5" cy="594.6" r="6.8" fill="#8ad0e6"/>
<circle cx="352.5" cy="604.9" r="6.8" fill="#8ad0e6"/>
<circle cx="360.2" cy="611.8" r="6.8" fill="#8ad0e6"/>
<circle cx="334.5" cy="604.9" r="6.8" fill="#8ad0e6"/>
<circle cx="343.5" cy="610.1" r="6.8" fill="#8ad0e6"/>
<circle cx="345.7" cy="620.2" r="6.8" fill="#8ad0e6"/>
<circle cx="356.0" cy="621.3" r="6.8" fill="#8ad0e6"/>
<circle cx="260.7" cy="584.2" r="5.5" fill="#dcdfd0"/>
<circle cx="250.3" cy="584.2" r="5.5" fill="#dcdfd0"/>
<circle cx="265.9" cy="576.8" r="5.5" fill="#dcdfd0"/>
<circle cx="276.2" cy="576.8" r="5.5" fill="#dcdfd0"/>
<circle cx="281.4" cy="584.2" r="5.5" fill="#dcdfd0"/>
<circle cx="276.2" cy="591.6" r="5.5" fill="#dcdfd0"/>
<circle cx="265.9" cy="591.6" r="5.5" fill="#dcdfd0"/>
<circle cx="245.2" cy="576.8" r="5.5" fill="#dcdfd0"/>
<circle cx="234.8" cy="576.8" r="5.5" fill="#dcdfd0"/>
<circle cx="229.6" cy="584.2" r="5.5" fill="#dcdfd0"/>
<circle cx="234.8" cy="591.6" r="5.5" fill="#dcdfd0"/>
<circle cx="245.2" cy="591.6" r="5.5" fill="#dcdfd0"/>
<circle cx="260.7" cy="569.3" r="5.5" fill="#dcdfd0"/>
<circle cx="250.3" cy="569.3" r="5.5" fill="#dcdfd0"/>
<circle cx="260.7" cy="599.1" r="5.5" fill="#dcdfd0"/>
<circle cx="250.3" cy="599.1" r="5.5" fill="#dcdfd0"/>
</g>
<g filter="url(#bl2)" opacity="0.9">
<circle cx="145.6" cy="633.9" r="6" fill="#58c6d8"/>
<circle cx="139.6" cy="637.4" r="5.5" fill="#2448d8"/>
<circle cx="365.4" cy="633.9" r="6" fill="#58c6d8"/>
<circle cx="371.4" cy="637.4" r="5.5" fill="#2448d8"/>
</g>
<g filter="url(#bl2)" opacity="0.55" fill="#fff">
<ellipse cx="193.5" cy="562.2" rx="5" ry="2.6"/>
<ellipse cx="317.5" cy="562.2" rx="5" ry="2.6"/>
<ellipse cx="225.5" cy="554.2" rx="5" ry="2.6"/>
<ellipse cx="285.5" cy="554.2" rx="5" ry="2.6"/>
<ellipse cx="149.5" cy="586.2" rx="5" ry="2.6"/>
<ellipse cx="361.5" cy="586.2" rx="5" ry="2.6"/>
</g>
</g>
<path d="M185.4 589.4L176.5 594.6M185.4 589.4L185.4 579.0M185.4 589.4L194.4 594.6M176.5 594.6L167.5 589.4M176.5 594.6L176.5 604.9M167.5 589.4L167.5 579.0M167.5 589.4L158.5 594.6M167.5 579.0L176.5 573.9M167.5 579.0L159.9 574.6M176.5 573.9L185.4 579.0M176.5 573.9L176.5 565.1M185.4 579.0L194.4 573.9M194.4 573.9L203.3 579.0M203.3 579.0L213.2 575.8M203.3 579.0L203.3 589.4M213.2 575.8L216.4 566.0M213.2 575.8L219.3 584.2M194.4 594.6L203.3 589.4M203.3 589.4L213.2 592.6M213.2 592.6L216.4 602.4M213.2 592.6L219.3 584.2M219.3 584.2L229.6 584.2M176.5 604.9L167.5 610.1M167.5 610.1L165.3 620.2M167.5 610.1L158.5 604.9M165.3 620.2L172.3 627.9M165.3 620.2L155.0 621.3M158.5 594.6L158.5 604.9M158.5 604.9L150.8 611.8M150.8 611.8L140.7 609.7M150.8 611.8L155.0 621.3M155.0 621.3L150.6 628.9M325.6 579.0L334.5 573.9M325.6 579.0L325.6 589.4M325.6 579.0L316.6 573.9M334.5 573.9L343.5 579.0M334.5 573.9L334.5 565.1M343.5 579.0L343.5 589.4M343.5 579.0L351.1 574.6M343.5 589.4L334.5 594.6M343.5 589.4L352.5 594.6M334.5 594.6L325.6 589.4M334.5 594.6L334.5 604.9M325.6 589.4L316.6 594.6M316.6 594.6L307.7 589.4M307.7 589.4L297.8 592.6M307.7 589.4L307.7 579.0M297.8 592.6L294.6 602.4M297.8 592.6L291.7 584.2M316.6 573.9L307.7 579.0M307.7 579.0L297.8 575.8M297.8 575.8L294.6 566.0M297.8 575.8L291.7 584.2M291.7 584.2L281.4 584.2M352.5 594.6L352.5 604.9M352.5 604.9L360.2 611.8M352.5 604.9L343.5 610.1M360.2 611.8L370.3 609.7M360.2 611.8L356.0 621.3M334.5 604.9L343.5 610.1M343.5 610.1L345.7 620.2M345.7 620.2L338.7 627.9M345.7 620.2L356.0 621.3M356.0 621.3L360.4 628.9M260.7 584.2L250.3 584.2M260.7 584.2L265.9 576.8M260.7 584.2L265.9 591.6M250.3 584.2L245.2 576.8M250.3 584.2L245.2 591.6M265.9 576.8L276.2 576.8M265.9 576.8L260.7 569.3M276.2 576.8L281.4 584.2M276.2 576.8L281.4 569.5M281.4 584.2L276.2 591.6M276.2 591.6L265.9 591.6M276.2 591.6L281.4 598.9M265.9 591.6L260.7 599.1M245.2 576.8L234.8 576.8M245.2 576.8L250.3 569.3M234.8 576.8L229.6 584.2M234.8 576.8L229.6 569.5M229.6 584.2L234.8 591.6M234.8 591.6L245.2 591.6M234.8 591.6L229.6 598.9M245.2 591.6L250.3 599.1M260.7 569.3L250.3 569.3M260.7 569.3L265.9 561.9M250.3 569.3L245.2 561.9M260.7 599.1L250.3 599.1M260.7 599.1L265.9 606.5M250.3 599.1L245.2 606.5" stroke="#9fb2b2" stroke-width="1.5" fill="none"/>
<circle cx="185.4" cy="589.4" r="2.75" fill="url(#aC)"/>
<circle cx="176.5" cy="594.6" r="2.75" fill="url(#aC)"/>
<circle cx="167.5" cy="589.4" r="2.75" fill="url(#aC)"/>
<circle cx="167.5" cy="579.0" r="2.75" fill="url(#aC)"/>
<circle cx="176.5" cy="573.9" r="2.75" fill="url(#aC)"/>
<circle cx="185.4" cy="579.0" r="2.75" fill="url(#aC)"/>
<circle cx="194.4" cy="573.9" r="2.70" fill="url(#aN)"/>
<circle cx="203.3" cy="579.0" r="2.75" fill="url(#aC)"/>
<circle cx="213.2" cy="575.8" r="2.75" fill="url(#aC)"/>
<circle cx="216.4" cy="566.0" r="2.75" fill="url(#aO)"/>
<circle cx="194.4" cy="594.6" r="2.70" fill="url(#aN)"/>
<circle cx="203.3" cy="589.4" r="2.75" fill="url(#aC)"/>
<circle cx="213.2" cy="592.6" r="2.75" fill="url(#aC)"/>
<circle cx="216.4" cy="602.4" r="2.75" fill="url(#aO)"/>
<circle cx="219.3" cy="584.2" r="2.70" fill="url(#aN)"/>
<circle cx="176.5" cy="604.9" r="2.70" fill="url(#aN)"/>
<circle cx="167.5" cy="610.1" r="2.75" fill="url(#aC)"/>
<circle cx="165.3" cy="620.2" r="2.75" fill="url(#aC)"/>
<circle cx="172.3" cy="627.9" r="2.75" fill="url(#aO)"/>
<circle cx="158.5" cy="594.6" r="2.70" fill="url(#aN)"/>
<circle cx="158.5" cy="604.9" r="2.75" fill="url(#aC)"/>
<circle cx="150.8" cy="611.8" r="2.75" fill="url(#aC)"/>
<circle cx="140.7" cy="609.7" r="2.75" fill="url(#aO)"/>
<circle cx="155.0" cy="621.3" r="2.70" fill="url(#aN)"/>
<circle cx="159.9" cy="574.6" r="1.80" fill="url(#aH)"/>
<circle cx="176.5" cy="565.1" r="1.80" fill="url(#aH)"/>
<circle cx="150.6" cy="628.9" r="1.80" fill="url(#aH)"/>
<circle cx="325.6" cy="579.0" r="2.75" fill="url(#aC)"/>
<circle cx="334.5" cy="573.9" r="2.75" fill="url(#aC)"/>
<circle cx="343.5" cy="579.0" r="2.75" fill="url(#aC)"/>
<circle cx="343.5" cy="589.4" r="2.75" fill="url(#aC)"/>
<circle cx="334.5" cy="594.6" r="2.75" fill="url(#aC)"/>
<circle cx="325.6" cy="589.4" r="2.75" fill="url(#aC)"/>
<circle cx="316.6" cy="594.6" r="2.70" fill="url(#aN)"/>
<circle cx="307.7" cy="589.4" r="2.75" fill="url(#aC)"/>
<circle cx="297.8" cy="592.6" r="2.75" fill="url(#aC)"/>
<circle cx="294.6" cy="602.4" r="2.75" fill="url(#aO)"/>
<circle cx="316.6" cy="573.9" r="2.70" fill="url(#aN)"/>
<circle cx="307.7" cy="579.0" r="2.75" fill="url(#aC)"/>
<circle cx="297.8" cy="575.8" r="2.75" fill="url(#aC)"/>
<circle cx="294.6" cy="566.0" r="2.75" fill="url(#aO)"/>
<circle cx="291.7" cy="584.2" r="2.70" fill="url(#aN)"/>
<circle cx="352.5" cy="594.6" r="2.70" fill="url(#aN)"/>
<circle cx="352.5" cy="604.9" r="2.75" fill="url(#aC)"/>
<circle cx="360.2" cy="611.8" r="2.75" fill="url(#aC)"/>
<circle cx="370.3" cy="609.7" r="2.75" fill="url(#aO)"/>
<circle cx="334.5" cy="604.9" r="2.70" fill="url(#aN)"/>
<circle cx="343.5" cy="610.1" r="2.75" fill="url(#aC)"/>
<circle cx="345.7" cy="620.2" r="2.75" fill="url(#aC)"/>
<circle cx="338.7" cy="627.9" r="2.75" fill="url(#aO)"/>
<circle cx="356.0" cy="621.3" r="2.70" fill="url(#aN)"/>
<circle cx="334.5" cy="565.1" r="1.80" fill="url(#aH)"/>
<circle cx="351.1" cy="574.6" r="1.80" fill="url(#aH)"/>
<circle cx="360.4" cy="628.9" r="1.80" fill="url(#aH)"/>
<circle cx="260.7" cy="584.2" r="2.75" fill="url(#aC)"/>
<circle cx="250.3" cy="584.2" r="2.75" fill="url(#aC)"/>
<circle cx="265.9" cy="576.8" r="2.75" fill="url(#aC)"/>
<circle cx="276.2" cy="576.8" r="2.75" fill="url(#aC)"/>
<circle cx="281.4" cy="584.2" r="2.75" fill="url(#aC)"/>
<circle cx="276.2" cy="591.6" r="2.75" fill="url(#aC)"/>
<circle cx="265.9" cy="591.6" r="2.75" fill="url(#aC)"/>
<circle cx="245.2" cy="576.8" r="2.75" fill="url(#aC)"/>
<circle cx="234.8" cy="576.8" r="2.75" fill="url(#aC)"/>
<circle cx="229.6" cy="584.2" r="2.75" fill="url(#aC)"/>
<circle cx="234.8" cy="591.6" r="2.75" fill="url(#aC)"/>
<circle cx="245.2" cy="591.6" r="2.75" fill="url(#aC)"/>
<circle cx="260.7" cy="569.3" r="2.75" fill="url(#aC)"/>
<circle cx="250.3" cy="569.3" r="2.75" fill="url(#aC)"/>
<circle cx="260.7" cy="599.1" r="2.75" fill="url(#aC)"/>
<circle cx="250.3" cy="599.1" r="2.75" fill="url(#aC)"/>
<circle cx="245.2" cy="561.9" r="2.75" fill="url(#aO)"/>
<circle cx="229.6" cy="569.5" r="1.80" fill="url(#aH)"/>
<circle cx="245.2" cy="606.5" r="2.75" fill="url(#aO)"/>
<circle cx="229.6" cy="598.9" r="1.80" fill="url(#aH)"/>
<circle cx="265.9" cy="561.9" r="2.75" fill="url(#aO)"/>
<circle cx="281.4" cy="569.5" r="1.80" fill="url(#aH)"/>
<circle cx="265.9" cy="606.5" r="2.75" fill="url(#aO)"/>
<circle cx="281.4" cy="598.9" r="1.80" fill="url(#aH)"/></g>
</svg>
</body></html>
